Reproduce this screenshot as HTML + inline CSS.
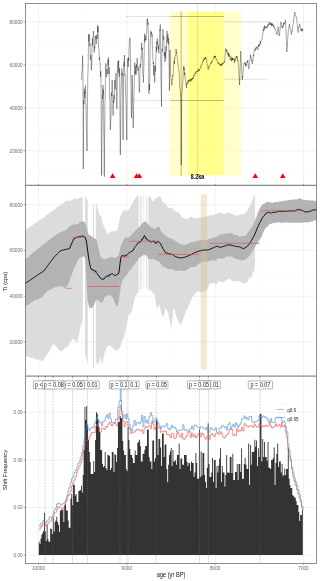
<!DOCTYPE html>
<html lang="en"><head><meta charset="utf-8"><title>Ti record, shifts and shift frequency</title>
<style>html,body{margin:0;padding:0;background:#fff}svg{display:block}</style></head>
<body>
<svg width="320" height="581" viewBox="0 0 320 581" font-family="'Liberation Sans', Arial, sans-serif">
<rect width="320" height="581" fill="#fff"/>
<line x1="25.5" x2="316.6" y1="43.5" y2="43.5" stroke="#f3f3f3" stroke-width="0.35"/>
<line x1="25.5" x2="316.6" y1="86.4" y2="86.4" stroke="#f3f3f3" stroke-width="0.35"/>
<line x1="25.5" x2="316.6" y1="129.3" y2="129.3" stroke="#f3f3f3" stroke-width="0.35"/>
<line x1="25.5" x2="316.6" y1="172.2" y2="172.2" stroke="#f3f3f3" stroke-width="0.35"/>
<line x1="82.7" x2="82.7" y1="3.6" y2="185.3" stroke="#f3f3f3" stroke-width="0.35"/>
<line x1="171.0" x2="171.0" y1="3.6" y2="185.3" stroke="#f3f3f3" stroke-width="0.35"/>
<line x1="259.3" x2="259.3" y1="3.6" y2="185.3" stroke="#f3f3f3" stroke-width="0.35"/>
<line x1="25.5" x2="316.6" y1="22" y2="22" stroke="#e9e9e9" stroke-width="0.6"/>
<line x1="25.5" x2="316.6" y1="64.9" y2="64.9" stroke="#e9e9e9" stroke-width="0.6"/>
<line x1="25.5" x2="316.6" y1="107.8" y2="107.8" stroke="#e9e9e9" stroke-width="0.6"/>
<line x1="25.5" x2="316.6" y1="150.7" y2="150.7" stroke="#e9e9e9" stroke-width="0.6"/>
<line x1="38.5" x2="38.5" y1="3.6" y2="185.3" stroke="#e9e9e9" stroke-width="0.6"/>
<line x1="126.8" x2="126.8" y1="3.6" y2="185.3" stroke="#e9e9e9" stroke-width="0.6"/>
<line x1="215.2" x2="215.2" y1="3.6" y2="185.3" stroke="#e9e9e9" stroke-width="0.6"/>
<line x1="303.5" x2="303.5" y1="3.6" y2="185.3" stroke="#e9e9e9" stroke-width="0.6"/>
<line x1="25.5" x2="316.6" y1="227.6" y2="227.6" stroke="#f3f3f3" stroke-width="0.35"/>
<line x1="25.5" x2="316.6" y1="273.4" y2="273.4" stroke="#f3f3f3" stroke-width="0.35"/>
<line x1="25.5" x2="316.6" y1="319.1" y2="319.1" stroke="#f3f3f3" stroke-width="0.35"/>
<line x1="25.5" x2="316.6" y1="364.9" y2="364.9" stroke="#f3f3f3" stroke-width="0.35"/>
<line x1="82.7" x2="82.7" y1="185.3" y2="376.1" stroke="#f3f3f3" stroke-width="0.35"/>
<line x1="171.0" x2="171.0" y1="185.3" y2="376.1" stroke="#f3f3f3" stroke-width="0.35"/>
<line x1="259.3" x2="259.3" y1="185.3" y2="376.1" stroke="#f3f3f3" stroke-width="0.35"/>
<line x1="25.5" x2="316.6" y1="204.75" y2="204.75" stroke="#e9e9e9" stroke-width="0.6"/>
<line x1="25.5" x2="316.6" y1="250.5" y2="250.5" stroke="#e9e9e9" stroke-width="0.6"/>
<line x1="25.5" x2="316.6" y1="296.25" y2="296.25" stroke="#e9e9e9" stroke-width="0.6"/>
<line x1="25.5" x2="316.6" y1="342" y2="342" stroke="#e9e9e9" stroke-width="0.6"/>
<line x1="38.5" x2="38.5" y1="185.3" y2="376.1" stroke="#e9e9e9" stroke-width="0.6"/>
<line x1="126.8" x2="126.8" y1="185.3" y2="376.1" stroke="#e9e9e9" stroke-width="0.6"/>
<line x1="215.2" x2="215.2" y1="185.3" y2="376.1" stroke="#e9e9e9" stroke-width="0.6"/>
<line x1="303.5" x2="303.5" y1="185.3" y2="376.1" stroke="#e9e9e9" stroke-width="0.6"/>
<line x1="25.5" x2="316.6" y1="388.5" y2="388.5" stroke="#f3f3f3" stroke-width="0.35"/>
<line x1="25.5" x2="316.6" y1="436.1" y2="436.1" stroke="#f3f3f3" stroke-width="0.35"/>
<line x1="25.5" x2="316.6" y1="483.7" y2="483.7" stroke="#f3f3f3" stroke-width="0.35"/>
<line x1="25.5" x2="316.6" y1="531.3" y2="531.3" stroke="#f3f3f3" stroke-width="0.35"/>
<line x1="82.7" x2="82.7" y1="376.1" y2="563.6" stroke="#f3f3f3" stroke-width="0.35"/>
<line x1="171.0" x2="171.0" y1="376.1" y2="563.6" stroke="#f3f3f3" stroke-width="0.35"/>
<line x1="259.3" x2="259.3" y1="376.1" y2="563.6" stroke="#f3f3f3" stroke-width="0.35"/>
<line x1="25.5" x2="316.6" y1="412.3" y2="412.3" stroke="#e9e9e9" stroke-width="0.6"/>
<line x1="25.5" x2="316.6" y1="459.9" y2="459.9" stroke="#e9e9e9" stroke-width="0.6"/>
<line x1="25.5" x2="316.6" y1="507.5" y2="507.5" stroke="#e9e9e9" stroke-width="0.6"/>
<line x1="25.5" x2="316.6" y1="555.1" y2="555.1" stroke="#e9e9e9" stroke-width="0.6"/>
<line x1="38.5" x2="38.5" y1="376.1" y2="563.6" stroke="#e9e9e9" stroke-width="0.6"/>
<line x1="126.8" x2="126.8" y1="376.1" y2="563.6" stroke="#e9e9e9" stroke-width="0.6"/>
<line x1="215.2" x2="215.2" y1="376.1" y2="563.6" stroke="#e9e9e9" stroke-width="0.6"/>
<line x1="303.5" x2="303.5" y1="376.1" y2="563.6" stroke="#e9e9e9" stroke-width="0.6"/>
<g id="panel1">
<rect x="170.5" y="11.5" width="70.7" height="164.8" fill="#ffffa0" fill-opacity="0.55"/>
<rect x="188.25" y="11.5" width="35.5" height="163.5" fill="#ffff50" fill-opacity="0.5"/>
<rect x="180.5" y="11.5" width="1.5" height="164.5" fill="#d9a84a" fill-opacity="0.6"/>
<line x1="197.5" x2="197.5" y1="3.6" y2="185" stroke="#777" stroke-width="0.4" stroke-dasharray="0.9,1.1"/>
<line x1="126.5" x2="170.5" y1="16.5" y2="16.5" stroke="#555" stroke-width="0.3" stroke-dasharray="1.4,1.2"/>
<line x1="133.7" x2="170.5" y1="100.4" y2="100.4" stroke="#555" stroke-width="0.3" stroke-dasharray="1.4,1.2"/>
<line x1="223.75" x2="269" y1="21.8" y2="21.8" stroke="#555" stroke-width="0.3" stroke-dasharray="1.4,1.2"/>
<line x1="223.75" x2="268.3" y1="79.3" y2="79.3" stroke="#555" stroke-width="0.3" stroke-dasharray="1.4,1.2"/>
<line x1="170.5" x2="223.75" y1="16.5" y2="16.5" stroke="#6b6b3a" stroke-width="0.45"/>
<line x1="170.5" x2="223.75" y1="100.5" y2="100.5" stroke="#6b6b3a" stroke-width="0.45"/>
<path d="M81.25,80.00 L81.47,77.78 L81.70,75.49 L81.92,72.23 L82.15,70.37 L82.38,63.27 L82.60,55.60 L83.00,74.40 L83.30,169.00 L83.70,100.00 L83.94,104.28 L84.19,88.82 L84.43,93.31 L84.67,98.42 L84.91,91.95 L85.16,93.67 L85.40,85.60 L85.63,89.14 L85.86,103.82 L86.09,109.83 L86.31,123.63 L86.54,133.42 L86.77,134.35 L87.00,151.00 L87.27,121.75 L87.53,97.69 L87.80,76.00 L88.04,71.75 L88.28,58.99 L88.51,39.39 L88.75,34.00 L88.99,41.46 L89.22,34.58 L89.46,44.76 L89.70,46.00 L89.92,43.28 L90.15,44.28 L90.38,60.20 L90.60,57.50 L90.85,55.02 L91.10,56.98 L91.35,70.36 L91.60,65.00 L91.85,60.29 L92.10,44.40 L92.36,38.56 L92.62,45.96 L92.88,36.95 L93.14,36.35 L93.40,31.00 L93.70,35.07 L94.00,48.00 L94.26,52.41 L94.52,46.46 L94.78,48.40 L95.04,45.11 L95.30,37.00 L95.54,35.73 L95.78,38.42 L96.01,37.24 L96.25,44.00 L96.49,37.37 L96.72,34.85 L96.96,37.08 L97.20,38.75 L97.42,37.23 L97.65,25.18 L97.88,32.23 L98.10,26.50 L98.50,48.00 L98.78,47.94 L99.05,49.90 L99.32,59.90 L99.60,57.50 L99.83,61.29 L100.07,62.90 L100.30,69.47 L100.53,76.90 L100.77,71.27 L101.00,82.00 L101.30,135.93 L101.60,175.60 L101.87,141.58 L102.13,125.61 L102.40,95.00 L102.65,98.77 L102.90,84.97 L103.15,95.12 L103.40,89.40 L103.62,109.19 L103.85,134.18 L104.08,147.44 L104.30,176.60 L104.53,144.27 L104.77,120.75 L105.00,100.00 L105.30,90.33 L105.60,67.00 L105.84,63.32 L106.07,72.59 L106.31,76.07 L106.55,77.13 L106.79,69.04 L107.03,70.07 L107.26,73.50 L107.50,74.00 L107.72,74.01 L107.95,59.87 L108.18,65.35 L108.40,57.50 L108.65,67.58 L108.90,74.15 L109.15,67.42 L109.40,80.00 L109.65,99.11 L109.90,98.72 L110.15,114.89 L110.40,129.70 L110.68,121.46 L110.97,116.17 L111.25,100.00 L111.49,92.60 L111.72,96.36 L111.96,85.68 L112.20,80.00 L112.42,86.09 L112.65,95.05 L112.88,101.86 L113.10,115.60 L113.32,104.12 L113.55,100.03 L113.78,102.99 L114.00,95.00 L114.25,99.70 L114.50,84.42 L114.75,79.98 L115.00,84.00 L115.24,89.50 L115.48,80.90 L115.72,77.19 L115.96,72.86 L116.20,75.00 L116.43,87.74 L116.67,102.56 L116.90,109.00 L117.20,89.13 L117.50,70.60 L117.72,68.03 L117.95,61.14 L118.18,72.64 L118.40,65.00 L118.66,60.19 L118.92,69.30 L119.18,76.68 L119.44,68.26 L119.70,76.00 L120.00,118.97 L120.30,155.00 L120.53,140.08 L120.77,113.62 L121.00,90.00 L121.30,85.57 L121.60,72.50 L121.85,68.47 L122.10,75.27 L122.35,72.86 L122.60,80.00 L122.85,115.17 L123.10,140.00 L123.35,100.42 L123.60,67.00 L123.87,62.30 L124.13,66.49 L124.40,55.00 L124.62,67.03 L124.85,75.64 L125.08,74.55 L125.30,82.00 L125.53,87.82 L125.77,97.44 L126.00,100.00 L126.27,113.02 L126.53,123.53 L126.80,140.00 L127.10,101.56 L127.40,66.00 L127.68,58.57 L127.95,59.91 L128.22,66.95 L128.50,57.50 L128.72,60.77 L128.95,52.15 L129.18,46.61 L129.40,43.00 L129.62,41.08 L129.85,37.84 L130.08,41.08 L130.30,45.00 L130.54,63.83 L130.78,79.71 L131.02,86.72 L131.26,107.69 L131.50,118.00 L131.73,107.79 L131.97,92.25 L132.20,75.00 L132.45,90.71 L132.70,105.39 L132.95,112.70 L133.20,128.00 L133.43,120.40 L133.67,103.38 L133.90,95.79 L134.13,89.38 L134.37,77.53 L134.60,64.00 L134.83,62.74 L135.07,74.35 L135.30,71.75 L135.53,72.54 L135.77,65.84 L136.00,75.00 L136.25,72.30 L136.50,64.46 L136.75,67.37 L137.00,60.84 L137.25,58.00 L137.50,65.58 L137.75,65.88 L138.00,70.96 L138.25,67.05 L138.50,74.33 L138.75,75.00 L139.07,87.32 L139.40,92.50 L139.70,86.17 L140.00,70.00 L140.23,63.89 L140.46,67.43 L140.69,63.98 L140.91,57.40 L141.14,57.86 L141.37,53.70 L141.60,43.00 L141.82,46.52 L142.05,49.94 L142.28,47.74 L142.50,56.00 L142.72,67.67 L142.95,75.81 L143.18,75.53 L143.40,82.50 L143.65,74.50 L143.90,64.05 L144.15,53.33 L144.40,39.00 L144.63,33.65 L144.86,42.36 L145.09,38.94 L145.32,39.78 L145.56,35.69 L145.79,38.31 L146.02,40.15 L146.25,35.60 L146.47,34.84 L146.70,33.29 L146.93,20.09 L147.15,19.27 L147.38,20.67 L147.60,18.75 L147.82,24.81 L148.05,22.16 L148.28,32.98 L148.50,34.00 L148.75,92.50 L149.03,93.63 L149.32,83.96 L149.60,90.00 L149.87,72.07 L150.13,50.89 L150.40,37.50 L150.65,30.66 L150.90,31.70 L151.15,34.31 L151.40,32.12 L151.65,32.15 L151.90,36.60 L152.12,34.48 L152.35,45.78 L152.58,49.35 L152.80,56.00 L153.04,60.99 L153.28,63.98 L153.51,62.01 L153.75,75.30 L153.99,65.07 L154.22,74.46 L154.46,75.87 L154.70,82.50 L154.96,75.85 L155.22,66.13 L155.48,71.57 L155.74,59.41 L156.00,56.00 L156.25,46.12 L156.50,51.87 L156.75,41.17 L157.00,45.01 L157.25,39.01 L157.50,38.50 L157.75,41.73 L158.00,49.41 L158.25,49.33 L158.50,45.35 L158.75,53.28 L159.00,50.60 L159.26,47.49 L159.52,38.16 L159.78,29.51 L160.04,31.08 L160.30,24.40 L160.54,41.78 L160.78,64.10 L161.02,80.68 L161.26,91.71 L161.50,106.50 L161.80,56.00 L162.06,48.57 L162.32,51.50 L162.58,32.91 L162.84,29.32 L163.10,30.00 L163.34,34.99 L163.57,39.73 L163.81,36.61 L164.05,47.94 L164.29,55.87 L164.53,52.14 L164.76,56.98 L165.00,62.00 L165.24,54.40 L165.47,51.87 L165.71,58.59 L165.95,46.20 L166.19,51.42 L166.43,47.21 L166.66,38.94 L166.90,34.00 L167.13,30.96 L167.36,42.34 L167.59,35.63 L167.82,34.98 L168.06,34.10 L168.29,44.64 L168.52,37.81 L168.75,38.50 L169.07,61.35 L169.40,90.60 L169.70,69.95 L170.00,50.00 L170.25,60.23 L170.50,75.00 L170.75,77.40 L171.00,77.99 L171.25,78.76 L171.50,83.36 L171.75,85.29 L172.00,85.00 L172.25,79.22 L172.50,79.48 L172.75,75.07 L173.00,76.18 L173.25,72.41 L173.50,66.33 L173.75,65.00 L173.98,62.24 L174.20,60.20 L174.43,63.84 L174.66,58.30 L174.89,58.83 L175.11,56.67 L175.34,56.32 L175.57,54.71 L175.80,54.19 L176.02,49.07 L176.25,50.00 L176.48,53.38 L176.70,52.44 L176.93,55.66 L177.16,56.29 L177.39,57.87 L177.61,61.09 L177.84,62.51 L178.07,63.71 L178.30,67.83 L178.52,68.73 L178.75,70.00 L178.99,70.55 L179.24,75.18 L179.48,79.73 L179.73,85.83 L179.97,88.99 L180.22,90.27 L180.46,90.42 L180.71,98.34 L180.95,100.00 L181.25,165.00 L181.55,100.00 L181.79,95.79 L182.04,92.90 L182.28,89.92 L182.53,85.68 L182.77,81.00 L183.02,79.80 L183.26,72.87 L183.51,69.13 L183.75,66.00 L183.98,69.93 L184.20,67.82 L184.43,70.23 L184.66,75.25 L184.89,72.49 L185.11,78.93 L185.34,79.90 L185.57,80.14 L185.80,81.08 L186.02,85.87 L186.25,86.00 L186.48,88.01 L186.70,82.95 L186.93,84.51 L187.16,84.48 L187.39,83.71 L187.61,82.26 L187.84,80.74 L188.07,82.59 L188.30,82.72 L188.52,80.33 L188.75,81.00 L188.97,80.18 L189.19,81.60 L189.41,81.41 L189.63,80.95 L189.85,79.18 L190.07,80.87 L190.29,81.42 L190.51,81.35 L190.74,80.46 L190.96,78.65 L191.18,80.60 L191.40,78.86 L191.62,79.85 L191.84,80.53 L192.06,79.79 L192.28,78.17 L192.50,79.00 L192.73,78.01 L192.95,79.18 L193.18,76.73 L193.41,77.47 L193.64,76.50 L193.86,75.39 L194.09,76.14 L194.32,74.18 L194.55,73.89 L194.77,74.14 L195.00,74.00 L195.23,72.61 L195.45,72.30 L195.68,73.38 L195.91,73.54 L196.14,73.62 L196.36,71.41 L196.59,71.91 L196.82,71.34 L197.05,71.81 L197.27,71.25 L197.50,71.00 L197.73,71.96 L197.95,70.31 L198.18,69.30 L198.41,70.79 L198.64,69.18 L198.86,70.25 L199.09,69.74 L199.32,70.61 L199.55,69.51 L199.77,69.50 L200.00,69.00 L200.23,67.79 L200.45,67.95 L200.68,66.59 L200.91,67.29 L201.14,66.09 L201.36,64.50 L201.59,64.17 L201.82,63.94 L202.05,64.30 L202.27,62.26 L202.50,62.50 L202.73,62.60 L202.95,61.99 L203.18,60.06 L203.41,61.12 L203.64,59.16 L203.86,58.80 L204.09,59.56 L204.32,58.18 L204.55,59.39 L204.77,57.90 L205.00,57.50 L205.25,57.29 L205.50,58.77 L205.75,57.03 L206.00,59.09 L206.25,58.75 L206.50,59.05 L206.75,60.77 L207.00,64.32 L207.25,65.08 L207.50,65.35 L207.75,66.54 L208.00,69.00 L208.22,69.78 L208.44,68.54 L208.67,68.50 L208.89,66.29 L209.11,67.10 L209.33,65.95 L209.56,65.20 L209.78,65.01 L210.00,65.00 L210.23,64.84 L210.45,63.70 L210.68,63.34 L210.91,62.24 L211.14,63.59 L211.36,62.66 L211.59,62.61 L211.82,61.19 L212.05,61.82 L212.27,60.50 L212.50,60.00 L212.73,59.88 L212.95,59.46 L213.18,59.53 L213.41,58.27 L213.64,57.13 L213.86,56.60 L214.09,56.68 L214.32,55.89 L214.55,57.74 L214.77,56.31 L215.00,56.00 L215.23,57.27 L215.45,55.88 L215.68,57.70 L215.91,59.38 L216.14,59.27 L216.36,59.36 L216.59,60.05 L216.82,59.69 L217.05,60.42 L217.27,61.02 L217.50,62.50 L217.73,62.40 L217.95,62.66 L218.18,64.17 L218.41,62.50 L218.64,63.00 L218.86,63.28 L219.09,63.21 L219.32,63.76 L219.55,63.86 L219.77,64.73 L220.00,65.00 L220.23,63.69 L220.45,65.92 L220.68,64.39 L220.91,65.78 L221.14,65.03 L221.36,64.91 L221.59,64.29 L221.82,65.43 L222.05,63.19 L222.27,64.53 L222.50,64.00 L222.72,63.29 L222.94,64.12 L223.17,64.10 L223.39,62.46 L223.61,62.39 L223.83,61.76 L224.06,62.13 L224.28,61.57 L224.50,62.50 L224.75,58.87 L225.00,57.83 L225.25,51.78 L225.50,49.00 L225.72,48.56 L225.94,49.64 L226.17,49.21 L226.39,51.58 L226.61,51.90 L226.83,49.85 L227.06,50.58 L227.28,52.87 L227.50,52.50 L227.73,54.89 L227.95,54.05 L228.18,53.56 L228.41,56.41 L228.64,52.60 L228.86,53.30 L229.09,56.91 L229.32,55.74 L229.55,54.59 L229.77,57.26 L230.00,57.50 L230.23,59.88 L230.45,58.04 L230.68,57.52 L230.91,56.62 L231.14,56.75 L231.36,60.62 L231.59,59.05 L231.82,61.24 L232.05,57.58 L232.27,58.64 L232.50,60.00 L232.73,58.11 L232.95,59.73 L233.18,58.34 L233.41,59.29 L233.64,60.05 L233.86,59.69 L234.09,58.66 L234.32,58.69 L234.55,62.89 L234.77,59.50 L235.00,61.00 L235.22,60.48 L235.44,59.46 L235.67,59.47 L235.89,56.95 L236.11,57.40 L236.33,55.94 L236.56,57.30 L236.78,58.41 L237.00,56.00 L237.25,58.08 L237.50,60.86 L237.75,59.67 L238.00,60.45 L238.25,64.39 L238.50,65.80 L238.75,67.50 L239.00,73.65 L239.25,78.62 L239.50,85.00 L239.75,78.75 L240.00,72.39 L240.25,66.42 L240.50,56.95 L240.75,51.00 L240.99,55.61 L241.23,62.10 L241.47,64.29 L241.72,68.64 L241.96,74.34 L242.20,80.00 L242.43,76.24 L242.67,77.31 L242.90,75.57 L243.13,71.40 L243.37,68.65 L243.60,66.49 L243.83,65.27 L244.07,62.62 L244.30,62.50 L244.54,62.69 L244.78,63.84 L245.01,62.88 L245.25,62.57 L245.49,65.88 L245.72,63.51 L245.96,64.68 L246.20,66.50 L246.43,64.63 L246.66,64.09 L246.89,61.95 L247.11,62.44 L247.34,61.04 L247.57,62.04 L247.80,60.00 L248.05,62.50 L248.30,66.24 L248.55,67.43 L248.80,69.00 L249.03,68.07 L249.26,65.19 L249.49,62.53 L249.71,62.11 L249.94,59.33 L250.17,58.57 L250.40,54.50 L250.64,56.69 L250.88,57.76 L251.11,57.04 L251.35,60.62 L251.59,59.92 L251.83,60.00 L252.06,60.90 L252.30,64.00 L252.53,61.05 L252.75,59.96 L252.97,60.27 L253.20,57.06 L253.43,54.58 L253.65,56.16 L253.88,53.75 L254.10,52.00 L254.33,49.35 L254.56,48.88 L254.79,48.66 L255.01,49.09 L255.24,50.73 L255.47,50.55 L255.70,48.00 L255.94,48.62 L256.18,47.07 L256.41,48.06 L256.65,47.89 L256.89,47.88 L257.12,46.60 L257.36,49.25 L257.60,49.00 L257.84,49.81 L258.08,48.75 L258.31,45.34 L258.55,46.63 L258.79,44.43 L259.02,46.17 L259.26,44.39 L259.50,44.00 L259.73,45.49 L259.97,44.41 L260.20,40.99 L260.43,41.42 L260.67,43.60 L260.90,41.16 L261.13,40.60 L261.37,40.19 L261.60,40.00 L261.86,39.58 L262.12,38.37 L262.38,35.32 L262.64,35.29 L262.90,32.00 L263.14,31.67 L263.38,29.22 L263.61,31.11 L263.85,29.01 L264.09,27.01 L264.32,29.67 L264.56,25.59 L264.80,26.60 L265.03,27.03 L265.27,26.85 L265.50,28.44 L265.73,26.84 L265.97,26.35 L266.20,26.73 L266.43,26.61 L266.67,28.07 L266.90,28.00 L267.13,26.89 L267.37,27.70 L267.60,25.27 L267.83,25.07 L268.07,24.09 L268.30,26.14 L268.53,25.02 L268.77,24.46 L269.00,22.60 L269.24,23.33 L269.48,22.84 L269.71,22.21 L269.95,24.99 L270.19,24.06 L270.42,22.74 L270.66,23.51 L270.90,25.00 L271.14,23.43 L271.38,25.53 L271.61,26.07 L271.85,23.42 L272.09,25.44 L272.32,23.62 L272.56,24.78 L272.80,24.00 L273.03,25.86 L273.27,25.55 L273.50,26.75 L273.73,25.78 L273.97,25.01 L274.20,27.38 L274.43,28.20 L274.67,27.31 L274.90,29.00 L275.13,29.22 L275.37,29.59 L275.60,29.16 L275.83,30.81 L276.07,31.69 L276.30,32.65 L276.53,34.09 L276.77,33.61 L277.00,34.60 L277.22,34.74 L277.44,32.54 L277.66,31.33 L277.88,28.89 L278.10,26.60 L278.36,29.09 L278.62,30.49 L278.88,33.32 L279.14,33.63 L279.40,36.00 L279.66,33.66 L279.92,31.29 L280.18,28.04 L280.44,24.50 L280.70,22.60 L280.93,21.85 L281.16,22.66 L281.39,24.40 L281.61,25.98 L281.84,27.39 L282.07,28.00 L282.30,28.00 L282.54,26.63 L282.77,28.20 L283.01,25.16 L283.25,26.08 L283.49,23.08 L283.73,24.86 L283.96,23.89 L284.20,22.60 L284.46,23.72 L284.72,22.99 L284.98,21.72 L285.24,21.74 L285.50,20.00 L285.73,26.19 L285.97,31.07 L286.20,34.95 L286.43,41.39 L286.67,48.09 L286.90,52.00 L287.16,47.06 L287.42,45.71 L287.68,40.16 L287.94,35.62 L288.20,32.00 L288.46,28.61 L288.72,28.40 L288.98,26.04 L289.24,26.15 L289.50,24.00 L289.74,26.76 L289.98,28.13 L290.21,28.38 L290.45,28.89 L290.69,29.22 L290.92,32.63 L291.16,33.47 L291.40,34.60 L291.63,34.00 L291.86,31.40 L292.09,31.88 L292.31,28.08 L292.54,27.04 L292.77,25.54 L293.00,25.00 L293.23,23.81 L293.45,23.18 L293.68,18.93 L293.90,18.98 L294.12,17.83 L294.35,14.26 L294.57,12.05 L294.80,12.00 L295.04,13.06 L295.27,14.84 L295.51,15.84 L295.75,16.12 L295.99,15.83 L296.23,16.68 L296.46,17.88 L296.70,18.60 L296.96,22.74 L297.22,23.25 L297.48,25.85 L297.74,29.70 L298.00,32.00 L298.23,32.54 L298.46,28.59 L298.69,26.88 L298.91,26.04 L299.14,26.51 L299.37,25.52 L299.60,24.00 L299.83,23.96 L300.07,25.09 L300.30,27.64 L300.53,28.93 L300.77,30.18 L301.00,30.60 L301.23,31.22 L301.45,28.62 L301.68,29.94 L301.90,31.00 L302.12,31.25 L302.35,28.75 L302.57,30.46 L302.80,29.00" fill="none" stroke="#000" stroke-width="0.34" stroke-linejoin="round"/>
<polygon points="109.8,178.0 115.39999999999999,178.0 112.6,173.3" fill="#f00"/>
<polygon points="133.79999999999998,178.0 139.4,178.0 136.6,173.3" fill="#f00"/>
<polygon points="136.6,178.0 142.20000000000002,178.0 139.4,173.3" fill="#f00"/>
<polygon points="252.5,178.0 258.1,178.0 255.3,173.3" fill="#f00"/>
<polygon points="280.0,178.0 285.6,178.0 282.8,173.3" fill="#f00"/>
<text transform="translate(197.5,179.3) scale(1,1.17)" font-size="5.4" font-weight="bold" text-anchor="middle" fill="#000">8.2ka</text>
</g>
<g id="panel2">
<path d="M25.50,230.00 L26.40,229.59 L27.30,228.91 L28.20,228.11 L29.10,227.20 L30.00,227.22 L30.90,226.61 L31.80,225.67 L32.70,225.04 L33.60,224.12 L34.50,223.25 L35.40,223.03 L36.30,222.65 L37.20,221.46 L38.10,221.63 L39.00,220.40 L39.90,219.77 L40.80,218.91 L41.70,219.31 L42.60,218.37 L43.50,217.87 L44.40,216.93 L45.30,215.63 L46.20,215.30 L47.10,214.83 L48.00,213.76 L48.90,214.02 L49.80,212.73 L50.70,211.84 L51.60,211.91 L52.50,210.50 L53.40,210.73 L54.30,209.53 L55.20,208.96 L56.10,208.04 L57.00,207.51 L57.90,206.50 L58.80,205.65 L59.70,205.88 L60.60,204.50 L61.50,204.42 L62.40,203.11 L63.30,203.26 L64.20,202.49 L65.10,201.65 L66.00,200.98 L66.90,200.68 L67.80,200.96 L68.70,200.41 L69.60,200.92 L70.50,201.06 L71.40,199.83 L72.30,200.09 L73.20,199.51 L74.10,198.65 L75.00,198.60 L75.90,198.70 L76.80,198.62 L77.70,199.29 L78.60,198.63 L79.50,197.80 L80.40,197.36 L81.30,197.54 L82.20,197.33 L82.70,196.50 L82.70,322.00 L82.20,322.62 L81.30,324.92 L80.40,327.02 L79.50,331.32 L78.60,337.17 L77.70,340.82 L76.80,343.08 L75.90,342.05 L75.00,340.28 L74.10,339.23 L73.20,339.44 L72.30,339.11 L71.40,341.09 L70.50,341.81 L69.60,343.56 L68.70,345.32 L67.80,346.39 L66.90,347.11 L66.00,347.31 L65.10,347.82 L64.20,348.75 L63.30,349.83 L62.40,350.50 L61.50,351.28 L60.60,351.05 L59.70,350.89 L58.80,349.48 L57.90,348.77 L57.00,347.78 L56.10,345.95 L55.20,345.03 L54.30,344.79 L53.40,344.01 L52.50,345.53 L51.60,347.04 L50.70,348.85 L49.80,349.91 L48.90,351.69 L48.00,353.10 L47.10,353.84 L46.20,355.83 L45.30,357.15 L44.40,358.28 L43.50,359.67 L42.60,360.71 L41.70,361.07 L40.80,360.85 L39.90,359.76 L39.00,359.53 L38.10,359.49 L37.20,359.55 L36.30,359.01 L35.40,359.38 L34.50,358.48 L33.60,358.02 L32.70,357.77 L31.80,357.99 L30.90,357.65 L30.00,357.44 L29.10,356.75 L28.20,357.07 L27.30,356.58 L26.40,356.26 L25.50,356.00Z" fill="#dcdcdc"/>
<path d="M85.00,195.60 L87.80,201.20 L87.80,364.70 L85.00,354.00Z" fill="#dcdcdc"/>
<path d="M93.00,205.00 L94.10,205.00 L94.10,368.50 L93.00,368.00Z" fill="#dcdcdc"/>
<path d="M95.80,201.70 L96.70,204.63 L97.60,208.34 L98.50,210.68 L99.40,214.59 L100.30,216.52 L101.20,214.06 L102.10,220.44 L103.00,223.57 L103.90,226.86 L104.80,228.73 L105.70,230.07 L106.60,231.94 L107.50,234.25 L108.40,233.75 L109.30,232.45 L110.20,231.95 L111.10,231.53 L112.00,231.23 L112.90,231.47 L113.80,230.90 L114.70,231.48 L115.60,230.93 L116.50,229.99 L117.40,230.08 L118.30,225.81 L119.20,221.49 L120.10,216.98 L121.00,215.00 L121.90,213.10 L122.80,211.39 L123.70,209.84 L124.60,210.07 L125.50,210.05 L126.40,211.13 L127.30,210.68 L128.20,209.95 L129.10,209.34 L130.00,207.86 L130.90,206.58 L131.80,204.37 L132.70,203.36 L133.60,200.94 L134.50,199.98 L135.40,197.98 L136.30,196.97 L137.20,196.04 L138.10,195.75 L138.80,196.25 L138.80,291.00 L138.10,292.32 L137.20,293.19 L136.30,294.65 L135.40,296.15 L134.50,298.97 L133.60,303.29 L132.70,307.49 L131.80,311.29 L130.90,313.51 L130.00,313.65 L129.10,314.50 L128.20,316.24 L127.30,321.65 L126.40,326.81 L125.50,330.92 L124.60,335.00 L123.70,337.43 L122.80,340.16 L121.90,341.72 L121.00,344.63 L120.10,346.69 L119.20,348.60 L118.30,350.14 L117.40,350.80 L116.50,350.77 L115.60,350.33 L114.70,350.54 L113.80,348.90 L112.90,348.04 L112.00,347.82 L111.10,346.75 L110.20,345.02 L109.30,345.35 L108.40,345.96 L107.50,346.79 L106.60,347.56 L105.70,350.58 L104.80,352.62 L103.90,355.03 L103.00,360.73 L102.10,364.65 L101.20,361.04 L100.30,356.05 L99.40,360.12 L98.50,364.02 L97.60,364.31 L96.70,362.72 L95.80,362.00Z" fill="#dcdcdc"/>
<rect x="140.2" y="196" width="1.4000000000000057" height="93" fill="#dcdcdc" fill-opacity="1"/>
<rect x="143.4" y="196" width="0.799999999999983" height="93" fill="#dcdcdc" fill-opacity="0.7"/>
<rect x="146.3" y="196" width="0.799999999999983" height="93" fill="#dcdcdc" fill-opacity="1"/>
<path d="M148.30,198.00 L149.20,196.56 L150.10,196.47 L151.00,198.24 L151.90,199.96 L152.80,201.37 L153.70,200.69 L154.60,199.74 L155.50,198.55 L156.40,198.11 L157.30,197.50 L158.20,197.06 L159.10,196.15 L160.00,196.46 L160.90,197.76 L161.80,199.91 L162.70,201.81 L163.60,202.86 L164.50,203.79 L165.40,203.61 L166.30,204.87 L167.20,206.22 L168.10,207.66 L169.00,208.23 L169.90,208.23 L170.80,207.26 L171.70,207.73 L172.60,209.34 L173.50,210.02 L174.40,210.61 L175.30,210.92 L176.20,212.15 L177.10,212.17 L178.00,211.93 L178.90,212.52 L179.80,214.06 L180.70,215.30 L181.60,216.04 L182.50,218.00 L183.40,217.66 L184.30,217.95 L185.20,218.96 L186.10,218.56 L187.00,219.50 L187.90,218.82 L188.80,218.48 L189.70,217.35 L190.60,216.68 L191.50,216.90 L192.40,216.98 L193.30,217.55 L194.20,218.35 L195.10,218.48 L196.00,218.14 L196.90,218.15 L197.80,217.80 L198.70,217.48 L199.60,218.11 L200.50,216.90 L201.40,217.61 L202.30,217.59 L203.20,217.19 L204.10,216.29 L205.00,216.67 L205.90,216.01 L206.80,216.49 L207.70,216.43 L208.60,215.74 L209.50,215.31 L210.40,215.72 L211.30,215.04 L212.20,215.10 L213.10,215.08 L214.00,215.31 L214.90,214.28 L215.80,213.57 L216.70,213.85 L217.60,213.43 L218.50,212.66 L219.40,212.17 L220.30,212.54 L221.20,213.01 L222.10,213.39 L223.00,213.26 L223.90,214.05 L224.80,213.92 L225.70,213.83 L226.60,213.60 L227.50,212.47 L228.40,212.91 L229.30,212.18 L230.20,213.06 L231.10,213.43 L232.00,213.99 L232.90,213.90 L233.80,214.30 L234.70,215.67 L235.60,215.56 L236.50,215.48 L237.40,215.23 L238.30,215.50 L239.20,214.90 L240.10,214.72 L241.00,214.59 L241.90,214.30 L242.80,214.44 L243.70,214.50 L244.60,213.38 L245.50,212.61 L246.40,211.90 L247.30,210.88 L248.20,209.14 L249.10,207.80 L250.00,205.76 L250.90,203.94 L251.80,202.09 L252.70,199.60 L253.60,196.87 L254.50,195.12 L255.00,195.00 L255.00,262.00 L254.50,270.43 L253.60,271.51 L252.70,271.92 L251.80,276.47 L250.90,278.37 L250.00,276.56 L249.10,277.78 L248.20,279.71 L247.30,281.73 L246.40,282.75 L245.50,283.46 L244.60,283.74 L243.70,283.50 L242.80,282.97 L241.90,282.54 L241.00,281.95 L240.10,281.68 L239.20,281.11 L238.30,280.76 L237.40,281.23 L236.50,281.59 L235.60,281.51 L234.70,280.95 L233.80,280.92 L232.90,281.80 L232.00,280.83 L231.10,279.94 L230.20,279.13 L229.30,278.44 L228.40,279.17 L227.50,279.45 L226.60,280.43 L225.70,280.62 L224.80,281.23 L223.90,281.90 L223.00,282.26 L222.10,282.72 L221.20,281.56 L220.30,281.72 L219.40,281.51 L218.50,281.37 L217.60,282.96 L216.70,284.19 L215.80,284.47 L214.90,283.38 L214.00,282.92 L213.10,282.99 L212.20,283.31 L211.30,283.47 L210.40,283.53 L209.50,284.46 L208.60,286.14 L207.70,288.37 L206.80,289.88 L205.90,290.38 L205.00,291.72 L204.10,291.12 L203.20,291.53 L202.30,292.33 L201.40,291.93 L200.50,292.34 L199.60,291.87 L198.70,291.13 L197.80,290.94 L196.90,291.70 L196.00,293.10 L195.10,293.69 L194.20,294.60 L193.30,296.20 L192.40,297.24 L191.50,299.35 L190.60,301.72 L189.70,303.36 L188.80,305.20 L187.90,307.04 L187.00,309.63 L186.10,310.86 L185.20,313.70 L184.30,315.89 L183.40,319.02 L182.50,320.88 L181.60,324.11 L180.70,324.73 L179.80,323.67 L178.90,322.77 L178.00,320.46 L177.10,317.84 L176.20,316.37 L175.30,312.93 L174.40,309.34 L173.50,308.38 L172.60,317.12 L171.70,325.15 L170.80,326.54 L169.90,322.44 L169.00,317.81 L168.10,312.69 L167.20,311.10 L166.30,309.55 L165.40,308.29 L164.50,312.39 L163.60,315.68 L162.70,317.74 L161.80,314.98 L160.90,311.39 L160.00,308.89 L159.10,304.29 L158.20,305.48 L157.30,310.28 L156.40,306.83 L155.50,299.69 L154.60,294.82 L153.70,293.71 L152.80,292.72 L151.90,291.46 L151.00,290.56 L150.10,290.11 L149.20,290.47 L148.30,290.00Z" fill="#dcdcdc"/>
<path d="M25.50,259.50 L26.40,258.48 L27.30,258.04 L28.20,256.69 L29.10,256.64 L30.00,255.22 L30.90,254.87 L31.80,253.64 L32.70,252.75 L33.60,251.93 L34.50,251.44 L35.40,250.93 L36.30,249.71 L37.20,249.56 L38.10,248.49 L39.00,248.16 L39.90,247.18 L40.80,246.31 L41.70,245.58 L42.60,244.81 L43.50,244.84 L44.40,243.86 L45.30,242.81 L46.20,242.80 L47.10,241.71 L48.00,240.17 L48.90,240.14 L49.80,239.35 L50.70,238.55 L51.60,237.96 L52.50,237.83 L53.40,236.54 L54.30,236.19 L55.20,235.54 L56.10,234.60 L57.00,233.94 L57.90,233.86 L58.80,233.34 L59.70,232.76 L60.60,232.44 L61.50,231.73 L62.40,231.97 L63.30,230.74 L64.20,231.04 L65.10,230.44 L66.00,229.80 L66.90,229.40 L67.80,228.44 L68.70,226.93 L69.60,226.42 L70.50,225.43 L71.40,225.77 L72.30,224.89 L73.20,224.53 L74.10,224.26 L75.00,224.28 L75.90,224.63 L76.80,224.14 L77.70,224.12 L78.60,223.83 L79.50,222.60 L80.40,221.95 L81.30,221.87 L82.20,220.88 L83.10,221.16 L84.00,222.13 L84.90,222.11 L85.80,224.72 L86.70,227.90 L87.60,231.08 L88.50,234.24 L89.40,235.18 L90.30,235.18 L91.20,235.85 L92.10,236.82 L93.00,237.63 L93.90,237.86 L94.80,238.57 L95.70,238.40 L96.60,239.62 L97.50,243.20 L98.40,247.93 L99.30,251.40 L100.20,255.95 L101.10,256.82 L102.00,257.83 L102.90,258.76 L103.80,259.13 L104.70,259.42 L105.60,258.85 L106.50,259.22 L107.40,257.84 L108.30,258.36 L109.20,257.70 L110.10,257.26 L111.00,257.23 L111.90,257.01 L112.80,257.38 L113.70,257.92 L114.60,258.09 L115.50,257.61 L116.40,257.58 L117.30,256.28 L118.20,256.06 L119.10,253.84 L120.00,249.70 L120.90,245.81 L121.80,243.68 L122.70,241.25 L123.60,239.81 L124.50,237.97 L125.40,237.68 L126.30,237.44 L127.20,237.20 L128.10,237.36 L129.00,237.65 L129.90,236.27 L130.80,235.66 L131.70,234.69 L132.60,233.62 L133.50,232.81 L134.40,231.70 L135.30,230.62 L136.20,230.04 L137.10,228.93 L138.00,228.03 L138.90,226.91 L139.80,226.74 L140.70,225.24 L141.60,224.04 L142.50,222.91 L143.40,222.17 L144.30,221.94 L145.20,220.86 L146.10,222.28 L147.00,222.86 L147.90,224.34 L148.80,225.09 L149.70,226.37 L150.60,227.10 L151.50,227.52 L152.40,227.70 L153.30,228.32 L154.20,228.87 L155.10,228.89 L156.00,227.99 L156.90,227.17 L157.80,227.13 L158.70,226.42 L159.60,227.50 L160.50,230.09 L161.40,231.70 L162.30,232.49 L163.20,233.71 L164.10,234.52 L165.00,234.72 L165.90,236.45 L166.80,236.34 L167.70,236.84 L168.60,237.95 L169.50,237.51 L170.40,238.21 L171.30,238.91 L172.20,238.94 L173.10,239.36 L174.00,240.36 L174.90,240.58 L175.80,241.25 L176.70,241.84 L177.60,242.47 L178.50,243.03 L179.40,243.50 L180.30,244.12 L181.20,243.86 L182.10,244.35 L183.00,244.42 L183.90,245.19 L184.80,245.11 L185.70,244.67 L186.60,244.60 L187.50,243.87 L188.40,243.37 L189.30,243.33 L190.20,242.73 L191.10,242.26 L192.00,242.03 L192.90,242.14 L193.80,242.24 L194.70,241.22 L195.60,241.62 L196.50,240.81 L197.40,241.00 L198.30,240.53 L199.20,240.45 L200.10,240.52 L201.00,240.10 L201.90,239.98 L202.80,240.25 L203.70,239.48 L204.60,239.64 L205.50,239.94 L206.40,239.99 L207.30,240.05 L208.20,239.01 L209.10,239.13 L210.00,238.49 L210.90,238.63 L211.80,238.50 L212.70,237.43 L213.60,237.38 L214.50,237.68 L215.40,236.68 L216.30,236.63 L217.20,236.47 L218.10,235.52 L219.00,235.71 L219.90,234.49 L220.80,234.66 L221.70,234.29 L222.60,234.31 L223.50,233.98 L224.40,233.60 L225.30,234.27 L226.20,233.40 L227.10,233.55 L228.00,233.23 L228.90,233.25 L229.80,232.95 L230.70,232.98 L231.60,232.94 L232.50,234.04 L233.40,233.76 L234.30,235.12 L235.20,234.84 L236.10,235.00 L237.00,235.19 L237.90,235.61 L238.80,236.27 L239.70,236.57 L240.60,236.52 L241.50,236.50 L242.40,235.97 L243.30,236.05 L244.20,236.03 L245.10,236.04 L246.00,235.33 L246.90,234.26 L247.80,232.06 L248.70,231.83 L249.60,230.58 L250.50,228.87 L251.40,227.93 L252.30,226.83 L253.20,224.16 L254.10,222.38 L255.00,220.53 L255.90,218.17 L256.80,215.95 L257.70,212.79 L258.60,211.24 L259.50,208.74 L260.40,207.55 L261.30,205.83 L262.20,205.35 L263.10,203.98 L264.00,203.97 L264.90,203.46 L265.80,202.28 L266.70,202.16 L267.60,201.62 L268.50,202.25 L269.40,202.33 L270.30,201.80 L271.20,202.87 L272.10,202.97 L273.00,202.38 L273.90,202.44 L274.80,202.12 L275.70,202.30 L276.60,201.98 L277.50,201.93 L278.40,202.14 L279.30,201.39 L280.20,201.37 L281.10,201.75 L282.00,201.02 L282.90,200.72 L283.80,201.51 L284.70,200.55 L285.60,200.69 L286.50,200.44 L287.40,200.25 L288.30,200.26 L289.20,200.37 L290.10,199.82 L291.00,200.19 L291.90,199.57 L292.80,199.50 L293.70,199.51 L294.60,199.43 L295.50,199.43 L296.40,199.21 L297.30,199.45 L298.20,198.89 L299.10,198.33 L300.00,198.30 L300.90,198.74 L301.80,198.88 L302.70,199.65 L303.60,199.88 L304.50,199.74 L305.40,200.07 L306.30,200.03 L307.20,200.44 L308.10,199.80 L309.00,200.34 L309.90,200.76 L310.80,200.36 L311.70,200.87 L312.60,200.07 L313.50,200.93 L314.40,200.59 L315.30,201.29 L316.20,201.09 L316.60,201.25 L316.60,220.00 L316.20,220.47 L315.30,220.47 L314.40,220.54 L313.50,220.48 L312.60,221.75 L311.70,221.35 L310.80,222.08 L309.90,221.74 L309.00,222.23 L308.10,222.28 L307.20,222.47 L306.30,222.71 L305.40,221.97 L304.50,222.36 L303.60,222.62 L302.70,222.49 L301.80,222.74 L300.90,222.84 L300.00,223.02 L299.10,222.51 L298.20,222.84 L297.30,222.50 L296.40,222.79 L295.50,222.56 L294.60,222.93 L293.70,222.40 L292.80,222.64 L291.90,223.12 L291.00,222.75 L290.10,222.52 L289.20,223.14 L288.30,222.85 L287.40,222.55 L286.50,222.24 L285.60,222.47 L284.70,223.13 L283.80,222.33 L282.90,222.45 L282.00,223.03 L281.10,222.99 L280.20,222.48 L279.30,222.00 L278.40,222.52 L277.50,222.91 L276.60,222.20 L275.70,222.84 L274.80,222.70 L273.90,222.88 L273.00,223.31 L272.10,223.24 L271.20,223.64 L270.30,224.36 L269.40,224.28 L268.50,225.58 L267.60,226.23 L266.70,227.17 L265.80,227.63 L264.90,229.15 L264.00,230.67 L263.10,233.04 L262.20,235.02 L261.30,237.46 L260.40,238.83 L259.50,239.95 L258.60,240.91 L257.70,242.89 L256.80,243.97 L255.90,245.18 L255.00,247.17 L254.10,247.85 L253.20,250.20 L252.30,251.33 L251.40,253.32 L250.50,254.38 L249.60,256.12 L248.70,256.55 L247.80,257.49 L246.90,257.91 L246.00,259.20 L245.10,259.08 L244.20,260.15 L243.30,260.49 L242.40,259.67 L241.50,260.15 L240.60,260.46 L239.70,259.62 L238.80,259.87 L237.90,259.63 L237.00,258.74 L236.10,258.76 L235.20,258.41 L234.30,258.74 L233.40,257.42 L232.50,257.06 L231.60,256.52 L230.70,255.88 L229.80,256.74 L228.90,256.40 L228.00,256.41 L227.10,256.42 L226.20,256.52 L225.30,257.04 L224.40,257.98 L223.50,257.97 L222.60,259.09 L221.70,258.74 L220.80,258.39 L219.90,257.96 L219.00,258.36 L218.10,258.41 L217.20,258.86 L216.30,259.96 L215.40,260.54 L214.50,260.65 L213.60,260.05 L212.70,260.72 L211.80,260.39 L210.90,260.21 L210.00,260.54 L209.10,261.53 L208.20,261.37 L207.30,261.49 L206.40,261.64 L205.50,262.11 L204.60,261.60 L203.70,262.24 L202.80,261.79 L201.90,262.55 L201.00,262.21 L200.10,263.26 L199.20,263.29 L198.30,264.23 L197.40,265.37 L196.50,265.93 L195.60,266.71 L194.70,266.80 L193.80,267.10 L192.90,267.06 L192.00,267.52 L191.10,266.69 L190.20,267.74 L189.30,267.78 L188.40,269.07 L187.50,269.48 L186.60,269.78 L185.70,270.17 L184.80,270.63 L183.90,271.16 L183.00,270.72 L182.10,271.07 L181.20,270.61 L180.30,270.56 L179.40,270.74 L178.50,270.25 L177.60,270.89 L176.70,270.65 L175.80,270.71 L174.90,270.82 L174.00,269.82 L173.10,269.41 L172.20,268.92 L171.30,269.10 L170.40,268.68 L169.50,269.60 L168.60,269.06 L167.70,268.62 L166.80,268.21 L165.90,267.68 L165.00,267.41 L164.10,266.81 L163.20,266.64 L162.30,265.88 L161.40,264.21 L160.50,263.61 L159.60,261.85 L158.70,261.50 L157.80,261.23 L156.90,260.33 L156.00,259.91 L155.10,259.96 L154.20,259.27 L153.30,259.19 L152.40,258.53 L151.50,259.31 L150.60,259.07 L149.70,258.81 L148.80,259.70 L147.90,257.69 L147.00,256.12 L146.10,255.47 L145.20,255.51 L144.30,254.77 L143.40,254.85 L142.50,255.80 L141.60,256.35 L140.70,256.98 L139.80,257.45 L138.90,258.15 L138.00,260.26 L137.10,260.89 L136.20,261.91 L135.30,263.63 L134.40,264.82 L133.50,265.47 L132.60,266.41 L131.70,268.32 L130.80,269.49 L129.90,269.96 L129.00,271.24 L128.10,272.92 L127.20,274.32 L126.30,275.40 L125.40,276.14 L124.50,277.63 L123.60,278.14 L122.70,279.45 L121.80,282.50 L120.90,286.55 L120.00,292.17 L119.10,298.47 L118.20,304.46 L117.30,306.00 L116.40,305.66 L115.50,304.26 L114.60,302.19 L113.70,299.77 L112.80,297.52 L111.90,296.56 L111.00,295.56 L110.10,295.20 L109.20,295.40 L108.30,295.24 L107.40,295.13 L106.50,295.89 L105.60,296.86 L104.70,297.08 L103.80,299.35 L102.90,302.36 L102.00,302.23 L101.10,302.20 L100.20,302.08 L99.30,301.08 L98.40,300.34 L97.50,299.67 L96.60,300.00 L95.70,300.94 L94.80,302.78 L93.90,304.93 L93.00,306.68 L92.10,307.52 L91.20,308.55 L90.30,307.87 L89.40,307.72 L88.50,304.45 L87.60,301.84 L86.70,283.70 L85.80,266.82 L84.90,257.59 L84.00,257.03 L83.10,256.36 L82.20,256.64 L81.30,257.57 L80.40,257.65 L79.50,257.94 L78.60,259.16 L77.70,261.25 L76.80,262.63 L75.90,264.83 L75.00,266.75 L74.10,267.59 L73.20,270.53 L72.30,273.19 L71.40,275.66 L70.50,277.80 L69.60,281.06 L68.70,282.75 L67.80,285.03 L66.90,286.17 L66.00,287.65 L65.10,287.39 L64.20,287.88 L63.30,287.26 L62.40,286.26 L61.50,286.36 L60.60,286.31 L59.70,286.44 L58.80,286.52 L57.90,286.27 L57.00,287.28 L56.10,287.04 L55.20,287.03 L54.30,287.52 L53.40,287.48 L52.50,288.44 L51.60,289.14 L50.70,289.41 L49.80,289.52 L48.90,290.34 L48.00,290.88 L47.10,291.20 L46.20,292.29 L45.30,293.20 L44.40,293.79 L43.50,295.52 L42.60,296.81 L41.70,297.58 L40.80,297.91 L39.90,298.01 L39.00,298.92 L38.10,299.44 L37.20,299.29 L36.30,299.56 L35.40,300.08 L34.50,300.37 L33.60,300.60 L32.70,302.04 L31.80,301.89 L30.90,302.30 L30.00,303.46 L29.10,304.07 L28.20,304.91 L27.30,304.84 L26.40,305.43 L25.50,306.30Z" fill="#b3b3b3"/>
<rect x="200.75" y="194.25" width="6.25" height="175.25" fill="#dcc088" fill-opacity="0.36"/>
<path d="M25.50,283.20 L26.20,282.73 L26.90,282.26 L27.60,281.80 L28.30,281.33 L29.00,280.86 L29.70,280.39 L30.40,279.92 L31.10,279.46 L31.80,278.99 L32.50,278.52 L33.20,278.05 L33.90,277.58 L34.60,277.12 L35.30,276.65 L36.00,276.18 L36.70,275.71 L37.40,275.24 L38.10,274.78 L38.80,274.31 L39.50,273.84 L40.20,273.37 L40.90,272.91 L41.60,272.44 L42.30,271.97 L43.00,271.50 L43.70,271.03 L44.40,270.12 L45.10,269.18 L45.80,268.23 L46.50,267.29 L47.20,266.34 L47.90,265.40 L48.60,264.45 L49.30,263.51 L50.00,262.56 L50.70,261.62 L51.40,260.67 L52.10,259.73 L52.80,258.78 L53.50,257.84 L54.20,257.03 L54.90,256.30 L55.60,255.58 L56.30,254.85 L57.00,254.12 L57.70,253.39 L58.40,252.66 L59.10,251.94 L59.80,251.21 L60.50,250.85 L61.20,250.64 L61.90,250.43 L62.60,250.22 L63.30,250.01 L64.00,249.80 L64.70,249.59 L65.40,249.43 L66.10,249.32 L66.80,249.20 L67.50,249.08 L68.20,248.97 L68.90,248.85 L69.60,248.50 L70.30,246.75 L71.00,245.00 L71.70,243.41 L72.40,241.82 L73.10,240.23 L73.80,238.73 L74.50,238.40 L75.20,238.07 L75.90,237.75 L76.60,237.42 L77.30,237.09 L78.00,236.90 L78.70,236.76 L79.40,236.62 L80.10,236.48 L80.80,236.34 L81.50,236.20 L82.20,236.06 L82.90,236.16 L83.60,236.44 L84.30,236.72 L85.00,237.00 L85.70,239.00 L86.40,241.00 L87.10,246.25 L87.80,251.80 L88.50,256.91 L89.20,261.36 L89.90,265.00 L90.60,267.70 L91.30,269.33 L92.00,269.43 L92.70,269.33 L93.40,270.82 L94.10,270.41 L94.80,271.44 L95.50,270.75 L96.20,272.41 L96.90,273.48 L97.60,274.15 L98.30,275.45 L99.00,275.91 L99.70,277.50 L100.40,278.12 L101.10,278.34 L101.80,279.46 L102.50,279.01 L103.20,279.21 L103.90,279.21 L104.60,277.90 L105.30,277.53 L106.00,276.21 L106.70,276.81 L107.40,275.91 L108.10,275.46 L108.80,276.37 L109.50,274.61 L110.20,274.74 L110.90,273.98 L111.60,273.96 L112.30,273.68 L113.00,274.17 L113.70,274.78 L114.40,275.33 L115.10,275.37 L115.80,275.56 L116.50,274.59 L117.20,274.10 L117.90,274.37 L118.60,273.21 L119.30,269.96 L120.00,263.93 L120.70,258.55 L121.40,256.28 L122.10,255.46 L122.80,255.88 L123.50,256.07 L124.20,255.73 L124.90,256.45 L125.60,255.15 L126.30,255.28 L127.00,254.83 L127.70,254.49 L128.40,253.56 L129.10,252.62 L129.80,252.09 L130.50,252.23 L131.20,251.39 L131.90,251.52 L132.60,250.36 L133.30,250.22 L134.00,248.57 L134.70,247.34 L135.40,246.47 L136.10,245.69 L136.80,244.69 L137.50,243.37 L138.20,242.69 L138.90,242.64 L139.60,242.78 L140.30,241.65 L141.00,241.23 L141.70,239.22 L142.40,239.47 L143.10,238.24 L143.80,236.69 L144.50,235.53 L145.20,237.06 L145.90,239.02 L146.60,238.61 L147.30,239.75 L148.00,240.07 L148.70,240.23 L149.40,241.20 L150.10,241.66 L150.80,241.39 L151.50,242.06 L152.20,241.51 L152.90,241.30 L153.60,241.22 L154.30,241.33 L155.00,243.09 L155.70,243.38 L156.40,243.21 L157.10,241.67 L157.80,241.61 L158.50,241.78 L159.20,242.35 L159.90,243.35 L160.60,243.52 L161.30,245.46 L162.00,246.74 L162.70,248.11 L163.40,249.19 L164.10,250.18 L164.80,251.73 L165.50,252.70 L166.20,252.80 L166.90,253.00 L167.60,253.32 L168.30,253.59 L169.00,253.81 L169.70,253.80 L170.40,254.16 L171.10,254.17 L171.80,254.44 L172.50,254.35 L173.20,255.10 L173.90,255.46 L174.60,256.04 L175.30,256.51 L176.00,256.93 L176.70,257.00 L177.40,257.26 L178.10,257.41 L178.80,257.76 L179.50,257.77 L180.20,257.89 L180.90,257.76 L181.60,257.67 L182.30,257.82 L183.00,257.74 L183.70,257.47 L184.40,257.36 L185.10,257.04 L185.80,256.82 L186.50,256.54 L187.20,256.39 L187.90,255.98 L188.60,255.66 L189.30,255.42 L190.00,254.99 L190.70,254.74 L191.40,254.55 L192.10,253.90 L192.80,253.55 L193.50,253.39 L194.20,252.79 L194.90,252.48 L195.60,252.41 L196.30,252.10 L197.00,251.75 L197.70,251.47 L198.40,251.30 L199.10,251.07 L199.80,250.99 L200.50,250.81 L201.20,250.52 L201.90,250.32 L202.60,250.13 L203.30,250.11 L204.00,250.13 L204.70,250.14 L205.40,249.88 L206.10,249.95 L206.80,249.92 L207.50,250.03 L208.20,249.76 L208.90,249.49 L209.60,249.40 L210.30,249.04 L211.00,248.75 L211.70,248.47 L212.40,248.20 L213.10,247.92 L213.80,247.58 L214.50,247.22 L215.20,246.85 L215.90,246.70 L216.60,246.47 L217.30,246.21 L218.00,246.51 L218.70,246.76 L219.40,247.26 L220.10,247.51 L220.80,247.12 L221.50,247.04 L222.20,246.72 L222.90,246.52 L223.60,246.33 L224.30,246.15 L225.00,245.95 L225.70,245.67 L226.40,245.28 L227.10,245.15 L227.80,244.95 L228.50,244.86 L229.20,245.02 L229.90,244.99 L230.60,245.11 L231.30,244.96 L232.00,245.35 L232.70,245.49 L233.40,245.60 L234.10,246.02 L234.80,246.12 L235.50,246.34 L236.20,246.30 L236.90,246.39 L237.60,246.77 L238.30,246.61 L239.00,246.74 L239.70,246.85 L240.40,247.07 L241.10,247.61 L241.80,247.99 L242.50,248.21 L243.20,248.46 L243.90,248.77 L244.60,248.19 L245.30,247.61 L246.00,247.31 L246.70,246.74 L247.40,246.25 L248.10,245.42 L248.80,244.53 L249.50,243.55 L250.20,242.66 L250.90,241.47 L251.60,240.28 L252.30,239.09 L253.00,237.75 L253.70,236.35 L254.40,234.95 L255.10,233.50 L255.80,231.75 L256.50,230.00 L257.20,228.25 L257.90,226.70 L258.60,225.30 L259.30,223.90 L260.00,222.50 L260.70,221.10 L261.40,219.70 L262.10,218.30 L262.80,217.14 L263.50,216.30 L264.20,215.50 L264.90,214.96 L265.60,213.64 L266.30,213.21 L267.00,213.12 L267.70,212.66 L268.40,212.30 L269.10,212.42 L269.80,212.58 L270.50,212.93 L271.20,213.32 L271.90,212.60 L272.60,212.40 L273.30,212.60 L274.00,212.21 L274.70,212.36 L275.40,212.34 L276.10,212.18 L276.80,211.90 L277.50,211.62 L278.20,211.17 L278.90,211.66 L279.60,211.23 L280.30,211.22 L281.00,211.36 L281.70,211.62 L282.40,211.29 L283.10,211.58 L283.80,211.62 L284.50,210.92 L285.20,211.11 L285.90,211.47 L286.60,211.30 L287.30,211.40 L288.00,210.70 L288.70,210.90 L289.40,211.16 L290.10,210.78 L290.80,210.89 L291.50,211.13 L292.20,210.49 L292.90,210.40 L293.60,211.03 L294.30,210.81 L295.00,210.51 L295.70,210.78 L296.40,210.11 L297.10,209.75 L297.80,209.65 L298.50,209.21 L299.20,209.51 L299.90,209.95 L300.60,209.83 L301.30,210.40 L302.00,210.03 L302.70,210.51 L303.40,210.86 L304.10,211.58 L304.80,211.65 L305.50,212.06 L306.20,211.84 L306.90,211.78 L307.60,211.89 L308.30,211.74 L309.00,211.74 L309.70,211.02 L310.40,211.02 L311.10,211.25 L311.80,210.57 L312.50,210.25 L313.20,210.17 L313.90,209.72 L314.60,210.13 L315.30,209.84 L316.00,209.28 L316.60,209.50" fill="none" stroke="#000" stroke-width="0.95" stroke-linejoin="round"/>
<line x1="65.75" x2="72" y1="288.3" y2="288.3" stroke="#e8403a" stroke-width="0.55"/>
<line x1="72.5" x2="86.4" y1="237.3" y2="237.3" stroke="#e8403a" stroke-width="0.55"/>
<line x1="87.5" x2="119.1" y1="286.5" y2="286.5" stroke="#e8403a" stroke-width="0.55"/>
<line x1="119.5" x2="129.5" y1="257" y2="257" stroke="#e8403a" stroke-width="0.55"/>
<line x1="128.75" x2="160" y1="241.25" y2="241.25" stroke="#e8403a" stroke-width="0.55"/>
<line x1="157.5" x2="198.75" y1="254.4" y2="254.4" stroke="#e8403a" stroke-width="0.55"/>
<line x1="209.25" x2="260" y1="243.25" y2="243.25" stroke="#e8403a" stroke-width="0.55"/>
<line x1="261.25" x2="300" y1="210.75" y2="210.75" stroke="#e8403a" stroke-width="0.55"/>
</g>
<g id="panel3">
<path d="M38.75,554.9 L38.75,541.7 L39.63,541.7 L39.63,544.0 L40.51,544.0 L40.51,538.6 L41.39,538.6 L41.39,534.7 L42.27,534.7 L42.27,533.0 L43.15,533.0 L43.15,530.8 L44.03,530.8 L44.03,512.8 L44.91,512.8 L44.91,531.5 L45.79,531.5 L45.79,541.0 L46.67,541.0 L46.67,525.0 L47.55,525.0 L47.55,539.0 L48.43,539.0 L48.43,541.7 L49.31,541.7 L49.31,541.7 L50.19,541.7 L50.19,528.4 L51.07,528.4 L51.07,529.0 L51.95,529.0 L51.95,534.0 L52.83,534.0 L52.83,518.0 L53.71,518.0 L53.71,531.5 L54.59,531.5 L54.59,522.0 L55.47,522.0 L55.47,520.6 L56.35,520.6 L56.35,516.7 L57.23,516.7 L57.23,522.0 L58.11,522.0 L58.11,525.0 L58.99,525.0 L58.99,532.0 L59.87,532.0 L59.87,510.5 L60.75,510.5 L60.75,510.5 L61.63,510.5 L61.63,509.0 L62.51,509.0 L62.51,510.0 L63.39,510.0 L63.39,522.0 L64.27,522.0 L64.27,505.0 L65.16,505.0 L65.16,503.4 L66.04,503.4 L66.04,510.5 L66.92,510.5 L66.92,510.5 L67.80,510.5 L67.80,520.6 L68.68,520.6 L68.68,527.7 L69.56,527.7 L69.56,527.7 L70.44,527.7 L70.44,498.8 L71.32,498.8 L71.32,494.0 L72.20,494.0 L72.20,505.0 L73.08,505.0 L73.08,484.7 L73.96,484.7 L73.96,484.7 L74.84,484.7 L74.84,495.6 L75.72,495.6 L75.72,494.0 L76.60,494.0 L76.60,502.0 L77.48,502.0 L77.48,502.0 L78.36,502.0 L78.36,491.0 L79.24,491.0 L79.24,490.4 L80.12,490.4 L80.12,490.0 L81.00,490.0 L81.00,485.5 L81.88,485.5 L81.88,492.5 L82.76,492.5 L82.76,475.0 L83.64,475.0 L83.64,450.0 L84.52,450.0 L84.52,407.0 L85.40,407.0 L85.40,420.0 L86.28,420.0 L86.28,406.0 L87.16,406.0 L87.16,425.0 L88.04,425.0 L88.04,440.0 L88.92,440.0 L88.92,452.0 L89.80,452.0 L89.80,462.0 L90.68,462.0 L90.68,474.0 L91.56,474.0 L91.56,474.0 L92.44,474.0 L92.44,474.0 L93.32,474.0 L93.32,461.0 L94.20,461.0 L94.20,472.0 L95.08,472.0 L95.08,440.0 L95.96,440.0 L95.96,412.0 L96.84,412.0 L96.84,414.0 L97.72,414.0 L97.72,420.0 L98.60,420.0 L98.60,427.0 L99.48,427.0 L99.48,432.0 L100.36,432.0 L100.36,450.0 L101.24,450.0 L101.24,450.0 L102.12,450.0 L102.12,464.0 L103.00,464.0 L103.00,467.0 L103.88,467.0 L103.88,466.0 L104.76,466.0 L104.76,452.0 L105.64,452.0 L105.64,468.0 L106.52,468.0 L106.52,470.0 L107.40,470.0 L107.40,455.0 L108.28,455.0 L108.28,455.0 L109.16,455.0 L109.16,456.0 L110.04,456.0 L110.04,470.0 L110.92,470.0 L110.92,468.0 L111.80,468.0 L111.80,452.0 L112.68,452.0 L112.68,452.0 L113.56,452.0 L113.56,472.0 L114.44,472.0 L114.44,454.0 L115.32,454.0 L115.32,455.0 L116.20,455.0 L116.20,462.0 L117.08,462.0 L117.08,448.0 L117.97,448.0 L117.97,422.0 L118.85,422.0 L118.85,422.0 L119.73,422.0 L119.73,416.0 L120.61,416.0 L120.61,418.0 L121.49,418.0 L121.49,418.0 L122.37,418.0 L122.37,441.0 L123.25,441.0 L123.25,450.6 L124.13,450.6 L124.13,455.0 L125.01,455.0 L125.01,455.0 L125.89,455.0 L125.89,469.0 L126.77,469.0 L126.77,471.0 L127.65,471.0 L127.65,427.0 L128.53,427.0 L128.53,440.0 L129.41,440.0 L129.41,449.0 L130.29,449.0 L130.29,455.0 L131.17,455.0 L131.17,455.0 L132.05,455.0 L132.05,458.0 L132.93,458.0 L132.93,463.0 L133.81,463.0 L133.81,463.0 L134.69,463.0 L134.69,450.6 L135.57,450.6 L135.57,455.0 L136.45,455.0 L136.45,455.0 L137.33,455.0 L137.33,443.0 L138.21,443.0 L138.21,441.6 L139.09,441.6 L139.09,439.7 L139.97,439.7 L139.97,446.0 L140.85,446.0 L140.85,461.5 L141.73,461.5 L141.73,461.5 L142.61,461.5 L142.61,453.8 L143.49,453.8 L143.49,453.8 L144.37,453.8 L144.37,449.8 L145.25,449.8 L145.25,446.0 L146.13,446.0 L146.13,446.0 L147.01,446.0 L147.01,429.5 L147.89,429.5 L147.89,429.5 L148.77,429.5 L148.77,457.0 L149.65,457.0 L149.65,461.5 L150.53,461.5 L150.53,461.5 L151.41,461.5 L151.41,469.0 L152.29,469.0 L152.29,440.5 L153.17,440.5 L153.17,440.5 L154.05,440.5 L154.05,461.5 L154.93,461.5 L154.93,458.0 L155.81,458.0 L155.81,420.0 L156.69,420.0 L156.69,421.0 L157.57,421.0 L157.57,455.0 L158.45,455.0 L158.45,439.0 L159.33,439.0 L159.33,439.0 L160.21,439.0 L160.21,447.5 L161.09,447.5 L161.09,466.0 L161.97,466.0 L161.97,433.4 L162.85,433.4 L162.85,433.4 L163.73,433.4 L163.73,457.0 L164.61,457.0 L164.61,444.4 L165.49,444.4 L165.49,444.4 L166.37,444.4 L166.37,469.0 L167.25,469.0 L167.25,482.0 L168.13,482.0 L168.13,464.7 L169.01,464.7 L169.01,455.0 L169.89,455.0 L169.89,451.6 L170.78,451.6 L170.78,448.0 L171.66,448.0 L171.66,466.0 L172.54,466.0 L172.54,450.0 L173.42,450.0 L173.42,461.5 L174.30,461.5 L174.30,461.5 L175.18,461.5 L175.18,460.0 L176.06,460.0 L176.06,464.7 L176.94,464.7 L176.94,455.0 L177.82,455.0 L177.82,455.0 L178.70,455.0 L178.70,443.6 L179.58,443.6 L179.58,469.0 L180.46,469.0 L180.46,458.4 L181.34,458.4 L181.34,458.4 L182.22,458.4 L182.22,464.7 L183.10,464.7 L183.10,464.7 L183.98,464.7 L183.98,455.0 L184.86,455.0 L184.86,455.0 L185.74,455.0 L185.74,455.0 L186.62,455.0 L186.62,461.8 L187.50,461.8 L187.50,466.0 L188.38,466.0 L188.38,463.0 L189.26,463.0 L189.26,463.0 L190.14,463.0 L190.14,471.0 L191.02,471.0 L191.02,461.5 L191.90,461.5 L191.90,463.0 L192.78,463.0 L192.78,463.0 L193.66,463.0 L193.66,477.0 L194.54,477.0 L194.54,472.5 L195.42,472.5 L195.42,453.0 L196.30,453.0 L196.30,463.0 L197.18,463.0 L197.18,478.8 L198.06,478.8 L198.06,478.8 L198.94,478.8 L198.94,429.5 L199.82,429.5 L199.82,477.0 L200.70,477.0 L200.70,451.4 L201.58,451.4 L201.58,475.6 L202.46,475.6 L202.46,453.0 L203.34,453.0 L203.34,453.0 L204.22,453.0 L204.22,475.0 L205.10,475.0 L205.10,482.0 L205.98,482.0 L205.98,488.0 L206.86,488.0 L206.86,467.8 L207.74,467.8 L207.74,423.3 L208.62,423.3 L208.62,464.0 L209.50,464.0 L209.50,477.0 L210.38,477.0 L210.38,477.0 L211.26,477.0 L211.26,472.5 L212.14,472.5 L212.14,457.7 L213.02,457.7 L213.02,482.0 L213.90,482.0 L213.90,460.0 L214.78,460.0 L214.78,460.0 L215.66,460.0 L215.66,488.0 L216.54,488.0 L216.54,466.0 L217.42,466.0 L217.42,472.5 L218.30,472.5 L218.30,465.5 L219.18,465.5 L219.18,458.4 L220.06,458.4 L220.06,448.3 L220.94,448.3 L220.94,482.0 L221.82,482.0 L221.82,466.0 L222.70,466.0 L222.70,472.5 L223.59,472.5 L223.59,472.5 L224.47,472.5 L224.47,486.5 L225.35,486.5 L225.35,475.0 L226.23,475.0 L226.23,455.0 L227.11,455.0 L227.11,472.5 L227.99,472.5 L227.99,472.5 L228.87,472.5 L228.87,473.0 L229.75,473.0 L229.75,457.0 L230.63,457.0 L230.63,457.0 L231.51,457.0 L231.51,473.0 L232.39,473.0 L232.39,453.8 L233.27,453.8 L233.27,480.0 L234.15,480.0 L234.15,480.0 L235.03,480.0 L235.03,472.0 L235.91,472.0 L235.91,472.0 L236.79,472.0 L236.79,464.0 L237.67,464.0 L237.67,480.0 L238.55,480.0 L238.55,464.0 L239.43,464.0 L239.43,464.0 L240.31,464.0 L240.31,472.0 L241.19,472.0 L241.19,448.3 L242.07,448.3 L242.07,478.8 L242.95,478.8 L242.95,478.8 L243.83,478.8 L243.83,464.0 L244.71,464.0 L244.71,457.7 L245.59,457.7 L245.59,464.7 L246.47,464.7 L246.47,469.0 L247.35,469.0 L247.35,469.0 L248.23,469.0 L248.23,443.6 L249.11,443.6 L249.11,485.0 L249.99,485.0 L249.99,445.0 L250.87,445.0 L250.87,464.7 L251.75,464.7 L251.75,452.0 L252.63,452.0 L252.63,452.0 L253.51,452.0 L253.51,451.4 L254.39,451.4 L254.39,439.7 L255.27,439.7 L255.27,446.7 L256.15,446.7 L256.15,440.5 L257.03,440.5 L257.03,466.0 L257.91,466.0 L257.91,448.3 L258.79,448.3 L258.79,457.0 L259.67,457.0 L259.67,414.0 L260.55,414.0 L260.55,414.0 L261.43,414.0 L261.43,461.5 L262.31,461.5 L262.31,439.0 L263.19,439.0 L263.19,457.0 L264.07,457.0 L264.07,442.0 L264.95,442.0 L264.95,457.0 L265.83,457.0 L265.83,457.0 L266.71,457.0 L266.71,460.8 L267.59,460.8 L267.59,442.0 L268.47,442.0 L268.47,467.8 L269.35,467.8 L269.35,467.8 L270.23,467.8 L270.23,469.0 L271.11,469.0 L271.11,460.0 L271.99,460.0 L271.99,460.0 L272.87,460.0 L272.87,458.0 L273.75,458.0 L273.75,447.5 L274.63,447.5 L274.63,485.0 L275.51,485.0 L275.51,463.0 L276.39,463.0 L276.39,454.1 L277.28,454.1 L277.28,443.6 L278.16,443.6 L278.16,467.0 L279.04,467.0 L279.04,461.5 L279.92,461.5 L279.92,461.5 L280.80,461.5 L280.80,472.5 L281.68,472.5 L281.68,464.0 L282.56,464.0 L282.56,475.6 L283.44,475.6 L283.44,475.6 L284.32,475.6 L284.32,468.6 L285.20,468.6 L285.20,475.0 L286.08,475.0 L286.08,469.0 L286.96,469.0 L286.96,469.0 L287.84,469.0 L287.84,447.5 L288.72,447.5 L288.72,478.8 L289.60,478.8 L289.60,485.0 L290.48,485.0 L290.48,488.0 L291.36,488.0 L291.36,488.0 L292.24,488.0 L292.24,495.0 L293.12,495.0 L293.12,496.1 L294.00,496.1 L294.00,497.5 L294.88,497.5 L294.88,497.5 L295.76,497.5 L295.76,501.1 L296.64,501.1 L296.64,505.0 L297.52,505.0 L297.52,505.0 L298.40,505.0 L298.40,512.0 L299.28,512.0 L299.28,521.0 L300.16,521.0 L300.16,515.0 L301.04,515.0 L301.04,515.0 L301.92,515.0 L301.92,510.0 L302.80,510.0 L302.80,554.9Z" fill="#333"/>
<line x1="45.15" x2="45.15" y1="376.1" y2="563.6" stroke="#777" stroke-width="0.35" stroke-dasharray="1.6,1.2"/>
<line x1="53" x2="53" y1="376.1" y2="563.6" stroke="#777" stroke-width="0.35" stroke-dasharray="1.6,1.2"/>
<line x1="72.5" x2="72.5" y1="376.1" y2="563.6" stroke="#777" stroke-width="0.35" stroke-dasharray="1.6,1.2"/>
<line x1="87.5" x2="87.5" y1="376.1" y2="563.6" stroke="#777" stroke-width="0.35" stroke-dasharray="1.6,1.2"/>
<line x1="120" x2="120" y1="376.1" y2="563.6" stroke="#777" stroke-width="0.35" stroke-dasharray="1.6,1.2"/>
<line x1="128" x2="128" y1="376.1" y2="563.6" stroke="#777" stroke-width="0.35" stroke-dasharray="1.6,1.2"/>
<line x1="156.3" x2="156.3" y1="376.1" y2="563.6" stroke="#777" stroke-width="0.35" stroke-dasharray="1.6,1.2"/>
<line x1="199.5" x2="199.5" y1="376.1" y2="563.6" stroke="#777" stroke-width="0.35" stroke-dasharray="1.6,1.2"/>
<line x1="208.4" x2="208.4" y1="376.1" y2="563.6" stroke="#777" stroke-width="0.35" stroke-dasharray="1.6,1.2"/>
<line x1="260" x2="260" y1="376.1" y2="563.6" stroke="#777" stroke-width="0.35" stroke-dasharray="1.6,1.2"/>
<path d="M39.00,529.41 L40.25,529.41 L40.25,527.14 L41.50,527.14 L41.50,525.74 L42.75,525.74 L42.75,523.79 L44.00,523.79 L44.00,523.44 L45.25,523.44 L45.25,525.94 L46.50,525.94 L46.50,524.25 L47.75,524.25 L47.75,523.34 L49.00,523.34 L49.00,521.89 L50.25,521.89 L50.25,520.91 L51.50,520.91 L51.50,518.16 L52.75,518.16 L52.75,517.14 L54.00,517.14 L54.00,512.61 L55.25,512.61 L55.25,512.19 L56.50,512.19 L56.50,509.55 L57.75,509.55 L57.75,506.46 L59.00,506.46 L59.00,507.68 L60.25,507.68 L60.25,508.01 L61.50,508.01 L61.50,507.99 L62.75,507.99 L62.75,508.84 L64.00,508.84 L64.00,505.78 L65.25,505.78 L65.25,501.66 L66.50,501.66 L66.50,499.99 L67.75,499.99 L67.75,495.39 L69.00,495.39 L69.00,493.96 L70.25,493.96 L70.25,491.06 L71.50,491.06 L71.50,485.89 L72.75,485.89 L72.75,482.78 L74.00,482.78 L74.00,479.75 L75.25,479.75 L75.25,476.85 L76.50,476.85 L76.50,472.23 L77.75,472.23 L77.75,469.18 L79.00,469.18 L79.00,465.90 L80.25,465.90 L80.25,462.70 L81.50,462.70 L81.50,458.54 L82.75,458.54 L82.75,451.81 L84.00,451.81 L84.00,446.72 L85.25,446.72 L85.25,439.91 L86.50,439.91 L86.50,440.15 L87.75,440.15 L87.75,439.95 L89.00,439.95 L89.00,437.14 L90.25,437.14 L90.25,434.68 L91.50,434.68 L91.50,432.41 L92.75,432.41 L92.75,432.55 L94.00,432.55 L94.00,432.55 L95.25,432.55 L95.25,426.11 L96.50,426.11 L96.50,424.62 L97.75,424.62 L97.75,426.43 L99.00,426.43 L99.00,432.14 L100.25,432.14 L100.25,432.03 L101.50,432.03 L101.50,428.17 L102.75,428.17 L102.75,427.98 L104.00,427.98 L104.00,429.50 L105.25,429.50 L105.25,426.51 L106.50,426.51 L106.50,427.28 L107.75,427.28 L107.75,424.16 L109.00,424.16 L109.00,422.25 L110.25,422.25 L110.25,424.70 L111.50,424.70 L111.50,425.92 L112.75,425.92 L112.75,424.09 L114.00,424.09 L114.00,423.37 L115.25,423.37 L115.25,423.90 L116.50,423.90 L116.50,425.78 L117.75,425.78 L117.75,418.65 L119.00,418.65 L119.00,409.99 L120.25,409.99 L120.25,405.50 L121.50,405.50 L121.50,414.75 L122.75,414.75 L122.75,420.63 L124.00,420.63 L124.00,426.59 L125.25,426.59 L125.25,421.97 L126.50,421.97 L126.50,421.70 L127.75,421.70 L127.75,425.95 L129.00,425.95 L129.00,427.97 L130.25,427.97 L130.25,433.49 L131.50,433.49 L131.50,432.74 L132.75,432.74 L132.75,432.64 L134.00,432.64 L134.00,431.72 L135.25,431.72 L135.25,430.47 L136.50,430.47 L136.50,429.04 L137.75,429.04 L137.75,429.34 L139.00,429.34 L139.00,430.03 L140.25,430.03 L140.25,431.03 L141.50,431.03 L141.50,430.16 L142.75,430.16 L142.75,433.50 L144.00,433.50 L144.00,428.30 L145.25,428.30 L145.25,426.53 L146.50,426.53 L146.50,427.56 L147.75,427.56 L147.75,426.52 L149.00,426.52 L149.00,425.58 L150.25,425.58 L150.25,428.56 L151.50,428.56 L151.50,421.61 L152.75,421.61 L152.75,424.21 L154.00,424.21 L154.00,429.54 L155.25,429.54 L155.25,426.82 L156.50,426.82 L156.50,425.83 L157.75,425.83 L157.75,427.78 L159.00,427.78 L159.00,427.29 L160.25,427.29 L160.25,432.36 L161.50,432.36 L161.50,431.17 L162.75,431.17 L162.75,431.05 L164.00,431.05 L164.00,431.96 L165.25,431.96 L165.25,430.95 L166.50,430.95 L166.50,434.80 L167.75,434.80 L167.75,434.23 L169.00,434.23 L169.00,435.33 L170.25,435.33 L170.25,437.59 L171.50,437.59 L171.50,433.33 L172.75,433.33 L172.75,433.39 L174.00,433.39 L174.00,438.62 L175.25,438.62 L175.25,437.75 L176.50,437.75 L176.50,433.50 L177.75,433.50 L177.75,432.60 L179.00,432.60 L179.00,435.73 L180.25,435.73 L180.25,437.43 L181.50,437.43 L181.50,433.27 L182.75,433.27 L182.75,439.00 L184.00,439.00 L184.00,439.30 L185.25,439.30 L185.25,437.16 L186.50,437.16 L186.50,435.21 L187.75,435.21 L187.75,432.36 L189.00,432.36 L189.00,431.18 L190.25,431.18 L190.25,437.40 L191.50,437.40 L191.50,433.12 L192.75,433.12 L192.75,436.70 L194.00,436.70 L194.00,434.25 L195.25,434.25 L195.25,437.96 L196.50,437.96 L196.50,436.21 L197.75,436.21 L197.75,433.96 L199.00,433.96 L199.00,432.93 L200.25,432.93 L200.25,436.80 L201.50,436.80 L201.50,433.00 L202.75,433.00 L202.75,434.56 L204.00,434.56 L204.00,437.24 L205.25,437.24 L205.25,439.24 L206.50,439.24 L206.50,437.54 L207.75,437.54 L207.75,435.21 L209.00,435.21 L209.00,439.29 L210.25,439.29 L210.25,434.63 L211.50,434.63 L211.50,433.52 L212.75,433.52 L212.75,435.31 L214.00,435.31 L214.00,436.60 L215.25,436.60 L215.25,433.57 L216.50,433.57 L216.50,433.59 L217.75,433.59 L217.75,434.11 L219.00,434.11 L219.00,434.70 L220.25,434.70 L220.25,431.74 L221.50,431.74 L221.50,433.52 L222.75,433.52 L222.75,437.26 L224.00,437.26 L224.00,438.10 L225.25,438.10 L225.25,435.51 L226.50,435.51 L226.50,434.99 L227.75,434.99 L227.75,433.53 L229.00,433.53 L229.00,429.85 L230.25,429.85 L230.25,429.11 L231.50,429.11 L231.50,429.24 L232.75,429.24 L232.75,435.38 L234.00,435.38 L234.00,434.25 L235.25,434.25 L235.25,435.53 L236.50,435.53 L236.50,428.57 L237.75,428.57 L237.75,431.87 L239.00,431.87 L239.00,430.11 L240.25,430.11 L240.25,430.94 L241.50,430.94 L241.50,427.39 L242.75,427.39 L242.75,430.92 L244.00,430.92 L244.00,423.57 L245.25,423.57 L245.25,425.43 L246.50,425.43 L246.50,426.28 L247.75,426.28 L247.75,427.05 L249.00,427.05 L249.00,425.66 L250.25,425.66 L250.25,425.52 L251.50,425.52 L251.50,426.36 L252.75,426.36 L252.75,427.41 L254.00,427.41 L254.00,423.95 L255.25,423.95 L255.25,426.05 L256.50,426.05 L256.50,427.22 L257.75,427.22 L257.75,426.77 L259.00,426.77 L259.00,423.53 L260.25,423.53 L260.25,426.27 L261.50,426.27 L261.50,427.25 L262.75,427.25 L262.75,425.83 L264.00,425.83 L264.00,426.67 L265.25,426.67 L265.25,425.05 L266.50,425.05 L266.50,426.12 L267.75,426.12 L267.75,426.04 L269.00,426.04 L269.00,422.30 L270.25,422.30 L270.25,425.83 L271.50,425.83 L271.50,428.04 L272.75,428.04 L272.75,427.17 L274.00,427.17 L274.00,426.04 L275.25,426.04 L275.25,423.85 L276.50,423.85 L276.50,426.26 L277.75,426.26 L277.75,425.37 L279.00,425.37 L279.00,424.57 L280.25,424.57 L280.25,427.23 L281.50,427.23 L281.50,422.25 L282.75,422.25 L282.75,426.65 L284.00,426.65 L284.00,425.24 L285.25,425.24 L285.25,432.40 L286.50,432.40 L286.50,437.79 L287.75,437.79 L287.75,448.76 L289.00,448.76 L289.00,456.15 L290.25,456.15 L290.25,460.99 L291.50,460.99 L291.50,469.04 L292.75,469.04 L292.75,476.42 L294.00,476.42 L294.00,480.96 L295.25,480.96 L295.25,485.44 L296.50,485.44 L296.50,489.61 L297.75,489.61 L297.75,493.26 L299.00,493.26 L299.00,497.14 L300.25,497.14 L300.25,502.10 L301.50,502.10 L301.50,507.42 L302.75,507.42 L302.75,510.19 L303.00,510.19" fill="none" stroke="#ec4f4f" stroke-width="0.6"/>
<path d="M39.00,525.99 L40.25,525.99 L40.25,523.37 L41.50,523.37 L41.50,523.20 L42.75,523.20 L42.75,520.70 L44.00,520.70 L44.00,522.04 L45.25,522.04 L45.25,523.04 L46.50,523.04 L46.50,521.15 L47.75,521.15 L47.75,520.02 L49.00,520.02 L49.00,517.10 L50.25,517.10 L50.25,516.83 L51.50,516.83 L51.50,517.30 L52.75,517.30 L52.75,514.18 L54.00,514.18 L54.00,510.03 L55.25,510.03 L55.25,507.85 L56.50,507.85 L56.50,504.25 L57.75,504.25 L57.75,502.93 L59.00,502.93 L59.00,503.37 L60.25,503.37 L60.25,505.17 L61.50,505.17 L61.50,504.37 L62.75,504.37 L62.75,503.15 L64.00,503.15 L64.00,502.79 L65.25,502.79 L65.25,500.04 L66.50,500.04 L66.50,496.01 L67.75,496.01 L67.75,491.19 L69.00,491.19 L69.00,487.67 L70.25,487.67 L70.25,482.70 L71.50,482.70 L71.50,478.67 L72.75,478.67 L72.75,476.58 L74.00,476.58 L74.00,472.56 L75.25,472.56 L75.25,470.40 L76.50,470.40 L76.50,467.28 L77.75,467.28 L77.75,463.62 L79.00,463.62 L79.00,461.00 L80.25,461.00 L80.25,456.43 L81.50,456.43 L81.50,452.67 L82.75,452.67 L82.75,445.74 L84.00,445.74 L84.00,438.40 L85.25,438.40 L85.25,429.44 L86.50,429.44 L86.50,424.07 L87.75,424.07 L87.75,428.49 L89.00,428.49 L89.00,430.50 L90.25,430.50 L90.25,428.03 L91.50,428.03 L91.50,427.17 L92.75,427.17 L92.75,427.61 L94.00,427.61 L94.00,423.77 L95.25,423.77 L95.25,420.57 L96.50,420.57 L96.50,416.93 L97.75,416.93 L97.75,419.55 L99.00,419.55 L99.00,422.37 L100.25,422.37 L100.25,422.02 L101.50,422.02 L101.50,425.64 L102.75,425.64 L102.75,421.14 L104.00,421.14 L104.00,421.06 L105.25,421.06 L105.25,417.04 L106.50,417.04 L106.50,414.87 L107.75,414.87 L107.75,418.33 L109.00,418.33 L109.00,413.26 L110.25,413.26 L110.25,418.85 L111.50,418.85 L111.50,422.89 L112.75,422.89 L112.75,422.29 L114.00,422.29 L114.00,422.85 L115.25,422.85 L115.25,418.97 L116.50,418.97 L116.50,418.87 L117.75,418.87 L117.75,407.41 L119.00,407.41 L119.00,401.10 L120.25,401.10 L120.25,400.51 L121.50,400.51 L121.50,410.80 L122.75,410.80 L122.75,417.81 L124.00,417.81 L124.00,414.66 L125.25,414.66 L125.25,418.97 L126.50,418.97 L126.50,413.89 L127.75,413.89 L127.75,418.42 L129.00,418.42 L129.00,424.66 L130.25,424.66 L130.25,429.15 L131.50,429.15 L131.50,431.22 L132.75,431.22 L132.75,425.73 L134.00,425.73 L134.00,420.44 L135.25,420.44 L135.25,425.43 L136.50,425.43 L136.50,422.54 L137.75,422.54 L137.75,422.51 L139.00,422.51 L139.00,423.97 L140.25,423.97 L140.25,421.84 L141.50,421.84 L141.50,415.49 L142.75,415.49 L142.75,426.58 L144.00,426.58 L144.00,416.65 L145.25,416.65 L145.25,422.71 L146.50,422.71 L146.50,420.00 L147.75,420.00 L147.75,423.82 L149.00,423.82 L149.00,416.50 L150.25,416.50 L150.25,412.68 L151.50,412.68 L151.50,415.52 L152.75,415.52 L152.75,423.06 L154.00,423.06 L154.00,420.29 L155.25,420.29 L155.25,417.87 L156.50,417.87 L156.50,418.96 L157.75,418.96 L157.75,422.85 L159.00,422.85 L159.00,425.44 L160.25,425.44 L160.25,428.97 L161.50,428.97 L161.50,426.16 L162.75,426.16 L162.75,426.09 L164.00,426.09 L164.00,426.93 L165.25,426.93 L165.25,425.40 L166.50,425.40 L166.50,423.56 L167.75,423.56 L167.75,428.61 L169.00,428.61 L169.00,429.97 L170.25,429.97 L170.25,427.53 L171.50,427.53 L171.50,425.29 L172.75,425.29 L172.75,427.90 L174.00,427.90 L174.00,427.17 L175.25,427.17 L175.25,428.83 L176.50,428.83 L176.50,432.11 L177.75,432.11 L177.75,430.72 L179.00,430.72 L179.00,429.96 L180.25,429.96 L180.25,430.32 L181.50,430.32 L181.50,429.99 L182.75,429.99 L182.75,424.76 L184.00,424.76 L184.00,430.10 L185.25,430.10 L185.25,429.54 L186.50,429.54 L186.50,430.97 L187.75,430.97 L187.75,431.17 L189.00,431.17 L189.00,429.00 L190.25,429.00 L190.25,428.92 L191.50,428.92 L191.50,426.30 L192.75,426.30 L192.75,429.62 L194.00,429.62 L194.00,425.00 L195.25,425.00 L195.25,425.23 L196.50,425.23 L196.50,426.75 L197.75,426.75 L197.75,426.92 L199.00,426.92 L199.00,428.70 L200.25,428.70 L200.25,426.95 L201.50,426.95 L201.50,426.83 L202.75,426.83 L202.75,428.16 L204.00,428.16 L204.00,428.06 L205.25,428.06 L205.25,429.84 L206.50,429.84 L206.50,427.16 L207.75,427.16 L207.75,433.02 L209.00,433.02 L209.00,430.90 L210.25,430.90 L210.25,427.64 L211.50,427.64 L211.50,428.64 L212.75,428.64 L212.75,429.58 L214.00,429.58 L214.00,429.95 L215.25,429.95 L215.25,427.76 L216.50,427.76 L216.50,432.24 L217.75,432.24 L217.75,432.53 L219.00,432.53 L219.00,427.98 L220.25,427.98 L220.25,428.06 L221.50,428.06 L221.50,425.44 L222.75,425.44 L222.75,425.81 L224.00,425.81 L224.00,427.79 L225.25,427.79 L225.25,426.78 L226.50,426.78 L226.50,430.09 L227.75,430.09 L227.75,424.54 L229.00,424.54 L229.00,422.79 L230.25,422.79 L230.25,429.42 L231.50,429.42 L231.50,426.63 L232.75,426.63 L232.75,424.13 L234.00,424.13 L234.00,427.24 L235.25,427.24 L235.25,422.72 L236.50,422.72 L236.50,425.08 L237.75,425.08 L237.75,427.07 L239.00,427.07 L239.00,424.99 L240.25,424.99 L240.25,422.83 L241.50,422.83 L241.50,418.86 L242.75,418.86 L242.75,418.67 L244.00,418.67 L244.00,415.98 L245.25,415.98 L245.25,419.08 L246.50,419.08 L246.50,417.52 L247.75,417.52 L247.75,419.60 L249.00,419.60 L249.00,416.68 L250.25,416.68 L250.25,416.27 L251.50,416.27 L251.50,420.88 L252.75,420.88 L252.75,422.50 L254.00,422.50 L254.00,421.93 L255.25,421.93 L255.25,421.44 L256.50,421.44 L256.50,421.15 L257.75,421.15 L257.75,420.21 L259.00,420.21 L259.00,416.15 L260.25,416.15 L260.25,418.48 L261.50,418.48 L261.50,417.81 L262.75,417.81 L262.75,415.96 L264.00,415.96 L264.00,416.45 L265.25,416.45 L265.25,418.24 L266.50,418.24 L266.50,417.84 L267.75,417.84 L267.75,420.71 L269.00,420.71 L269.00,422.36 L270.25,422.36 L270.25,418.62 L271.50,418.62 L271.50,422.15 L272.75,422.15 L272.75,422.51 L274.00,422.51 L274.00,422.28 L275.25,422.28 L275.25,418.11 L276.50,418.11 L276.50,417.20 L277.75,417.20 L277.75,417.37 L279.00,417.37 L279.00,417.28 L280.25,417.28 L280.25,417.28 L281.50,417.28 L281.50,420.18 L282.75,420.18 L282.75,422.04 L284.00,422.04 L284.00,421.49 L285.25,421.49 L285.25,426.68 L286.50,426.68 L286.50,431.70 L287.75,431.70 L287.75,444.59 L289.00,444.59 L289.00,451.27 L290.25,451.27 L290.25,459.37 L291.50,459.37 L291.50,467.52 L292.75,467.52 L292.75,472.96 L294.00,472.96 L294.00,478.26 L295.25,478.26 L295.25,481.85 L296.50,481.85 L296.50,485.10 L297.75,485.10 L297.75,489.85 L299.00,489.85 L299.00,494.30 L300.25,494.30 L300.25,500.30 L301.50,500.30 L301.50,506.05 L302.75,506.05 L302.75,509.88 L303.00,509.88" fill="none" stroke="#4a8ccf" stroke-width="0.6"/>
<rect x="76" y="380.9" width="23.299999999999997" height="8.0" rx="0.9" fill="#fff" stroke="#333" stroke-width="0.35"/>
<text transform="translate(87.65,387.3) scale(1,1.17)" font-size="5.5" text-anchor="middle" fill="#222">p = 0.01</text>
<rect x="61.5" y="380.9" width="22.799999999999997" height="8.0" rx="0.9" fill="#fff" stroke="#333" stroke-width="0.35"/>
<text transform="translate(72.9,387.3) scale(1,1.17)" font-size="5.5" text-anchor="middle" fill="#222">p = 0.05</text>
<rect x="33.4" y="380.9" width="23.1" height="8.0" rx="0.9" fill="#fff" stroke="#333" stroke-width="0.35"/>
<text transform="translate(44.95,387.3) scale(1,1.17)" font-size="5.5" text-anchor="middle" fill="#222">p &lt; 0.01</text>
<rect x="42.5" y="380.9" width="22.5" height="8.0" rx="0.9" fill="#fff" stroke="#333" stroke-width="0.35"/>
<text transform="translate(53.75,387.3) scale(1,1.17)" font-size="5.5" text-anchor="middle" fill="#222">p = 0.08</text>
<rect x="119.7" y="380.9" width="19.299999999999997" height="8.0" rx="0.9" fill="#fff" stroke="#333" stroke-width="0.35"/>
<text transform="translate(129.35,387.3) scale(1,1.17)" font-size="5.5" text-anchor="middle" fill="#222">p = 0.1</text>
<rect x="109.4" y="380.9" width="19.349999999999994" height="8.0" rx="0.9" fill="#fff" stroke="#333" stroke-width="0.35"/>
<text transform="translate(119.075,387.3) scale(1,1.17)" font-size="5.5" text-anchor="middle" fill="#222">p = 0.1</text>
<rect x="145.8" y="380.9" width="22.19999999999999" height="8.0" rx="0.9" fill="#fff" stroke="#333" stroke-width="0.35"/>
<text transform="translate(156.9,387.3) scale(1,1.17)" font-size="5.5" text-anchor="middle" fill="#222">p = 0.05</text>
<rect x="197.5" y="380.9" width="23.0" height="8.0" rx="0.9" fill="#fff" stroke="#333" stroke-width="0.35"/>
<text transform="translate(209.0,387.3) scale(1,1.17)" font-size="5.5" text-anchor="middle" fill="#222">p = 0.01</text>
<rect x="187.5" y="380.9" width="23.0" height="8.0" rx="0.9" fill="#fff" stroke="#333" stroke-width="0.35"/>
<text transform="translate(199.0,387.3) scale(1,1.17)" font-size="5.5" text-anchor="middle" fill="#222">p = 0.05</text>
<rect x="248.3" y="380.9" width="24.19999999999999" height="8.0" rx="0.9" fill="#fff" stroke="#333" stroke-width="0.35"/>
<text transform="translate(260.4,387.3) scale(1,1.17)" font-size="5.5" text-anchor="middle" fill="#222">p = 0.07</text>
<path d="M120.4,401 L120.4,389.5 L121.3,389.5 L121.3,401" fill="none" stroke="#4a8ccf" stroke-width="0.5"/>
<line x1="276.7" x2="283.6" y1="409.4" y2="409.4" stroke="#ec4f4f" stroke-width="0.55"/>
<line x1="276.7" x2="285.3" y1="417.7" y2="417.7" stroke="#4a8ccf" stroke-width="0.55"/>
<circle cx="282.2" cy="403.6" r="0.45" fill="#4a8ccf"/>
<text transform="translate(287.3,411.9) scale(1,1.15)" font-size="4.5" fill="#222">q0.9</text>
<text transform="translate(287.3,420.5) scale(1,1.15)" font-size="4.5" fill="#222">q0.95</text>
</g>
<rect x="25.5" y="3.6" width="291.1" height="560.0" fill="none" stroke="#606060" stroke-width="0.7"/>
<line x1="25.5" x2="316.6" y1="185.3" y2="185.3" stroke="#606060" stroke-width="0.9"/>
<line x1="25.5" x2="316.6" y1="376.1" y2="376.1" stroke="#606060" stroke-width="0.9"/>
<line x1="23.6" x2="25.5" y1="22" y2="22" stroke="#444" stroke-width="0.4"/>
<text transform="translate(22.6,23.95) scale(1,1.15)" font-size="4.7" text-anchor="end" fill="#686868">80000</text>
<line x1="23.6" x2="25.5" y1="64.9" y2="64.9" stroke="#444" stroke-width="0.4"/>
<text transform="translate(22.6,66.85000000000001) scale(1,1.15)" font-size="4.7" text-anchor="end" fill="#686868">60000</text>
<line x1="23.6" x2="25.5" y1="107.8" y2="107.8" stroke="#444" stroke-width="0.4"/>
<text transform="translate(22.6,109.75) scale(1,1.15)" font-size="4.7" text-anchor="end" fill="#686868">40000</text>
<line x1="23.6" x2="25.5" y1="150.7" y2="150.7" stroke="#444" stroke-width="0.4"/>
<text transform="translate(22.6,152.64999999999998) scale(1,1.15)" font-size="4.7" text-anchor="end" fill="#686868">20000</text>
<line x1="23.6" x2="25.5" y1="204.75" y2="204.75" stroke="#444" stroke-width="0.4"/>
<text transform="translate(22.6,206.7) scale(1,1.15)" font-size="4.7" text-anchor="end" fill="#686868">80000</text>
<line x1="23.6" x2="25.5" y1="250.5" y2="250.5" stroke="#444" stroke-width="0.4"/>
<text transform="translate(22.6,252.45) scale(1,1.15)" font-size="4.7" text-anchor="end" fill="#686868">60000</text>
<line x1="23.6" x2="25.5" y1="296.25" y2="296.25" stroke="#444" stroke-width="0.4"/>
<text transform="translate(22.6,298.2) scale(1,1.15)" font-size="4.7" text-anchor="end" fill="#686868">40000</text>
<line x1="23.6" x2="25.5" y1="342" y2="342" stroke="#444" stroke-width="0.4"/>
<text transform="translate(22.6,343.95) scale(1,1.15)" font-size="4.7" text-anchor="end" fill="#686868">20000</text>
<line x1="23.6" x2="25.5" y1="412.3" y2="412.3" stroke="#444" stroke-width="0.4"/>
<text transform="translate(22.6,414.25) scale(1,1.15)" font-size="4.7" text-anchor="end" fill="#686868">0.09</text>
<line x1="23.6" x2="25.5" y1="459.9" y2="459.9" stroke="#444" stroke-width="0.4"/>
<text transform="translate(22.6,461.84999999999997) scale(1,1.15)" font-size="4.7" text-anchor="end" fill="#686868">0.06</text>
<line x1="23.6" x2="25.5" y1="507.5" y2="507.5" stroke="#444" stroke-width="0.4"/>
<text transform="translate(22.6,509.45) scale(1,1.15)" font-size="4.7" text-anchor="end" fill="#686868">0.03</text>
<line x1="23.6" x2="25.5" y1="555.1" y2="555.1" stroke="#444" stroke-width="0.4"/>
<text transform="translate(22.6,557.0500000000001) scale(1,1.15)" font-size="4.7" text-anchor="end" fill="#686868">0.00</text>
<line x1="38.5" x2="38.5" y1="563.6" y2="565.2" stroke="#444" stroke-width="0.4"/>
<text transform="translate(38.5,570.4) scale(1,1.15)" font-size="4.7" text-anchor="middle" fill="#686868">10000</text>
<line x1="38.5" x2="38.5" y1="183.9" y2="185.3" stroke="#444" stroke-width="0.4"/>
<line x1="126.8" x2="126.8" y1="563.6" y2="565.2" stroke="#444" stroke-width="0.4"/>
<text transform="translate(126.8,570.4) scale(1,1.15)" font-size="4.7" text-anchor="middle" fill="#686868">9000</text>
<line x1="126.8" x2="126.8" y1="183.9" y2="185.3" stroke="#444" stroke-width="0.4"/>
<line x1="215.2" x2="215.2" y1="563.6" y2="565.2" stroke="#444" stroke-width="0.4"/>
<text transform="translate(215.2,570.4) scale(1,1.15)" font-size="4.7" text-anchor="middle" fill="#686868">8000</text>
<line x1="215.2" x2="215.2" y1="183.9" y2="185.3" stroke="#444" stroke-width="0.4"/>
<line x1="303.5" x2="303.5" y1="563.6" y2="565.2" stroke="#444" stroke-width="0.4"/>
<text transform="translate(303.5,570.4) scale(1,1.15)" font-size="4.7" text-anchor="middle" fill="#686868">7000</text>
<line x1="303.5" x2="303.5" y1="183.9" y2="185.3" stroke="#444" stroke-width="0.4"/>
<line x1="38.3" x2="38.3" y1="376.1" y2="377.6" stroke="#444" stroke-width="0.4"/>
<line x1="45.15" x2="45.15" y1="376.1" y2="377.6" stroke="#444" stroke-width="0.4"/>
<line x1="53" x2="53" y1="376.1" y2="377.6" stroke="#444" stroke-width="0.4"/>
<line x1="72.5" x2="72.5" y1="376.1" y2="377.6" stroke="#444" stroke-width="0.4"/>
<line x1="87.5" x2="87.5" y1="376.1" y2="377.6" stroke="#444" stroke-width="0.4"/>
<line x1="120" x2="120" y1="376.1" y2="377.6" stroke="#444" stroke-width="0.4"/>
<line x1="128" x2="128" y1="376.1" y2="377.6" stroke="#444" stroke-width="0.4"/>
<line x1="156.3" x2="156.3" y1="376.1" y2="377.6" stroke="#444" stroke-width="0.4"/>
<line x1="199.5" x2="199.5" y1="376.1" y2="377.6" stroke="#444" stroke-width="0.4"/>
<line x1="208.4" x2="208.4" y1="376.1" y2="377.6" stroke="#444" stroke-width="0.4"/>
<line x1="260" x2="260" y1="376.1" y2="377.6" stroke="#444" stroke-width="0.4"/>
<text transform="translate(171,576.6) scale(1,1.15)" font-size="5.7" text-anchor="middle" fill="#111">age (yr BP)</text>
<text transform="translate(7.1,281.6) rotate(-90) scale(1.15,1)" font-size="5.2" text-anchor="middle" fill="#111">Ti (cps)</text>
<text transform="translate(7.1,470) rotate(-90) scale(1.15,1)" font-size="5" text-anchor="middle" fill="#111">Shift Frequency</text>
</svg>
</body></html>
